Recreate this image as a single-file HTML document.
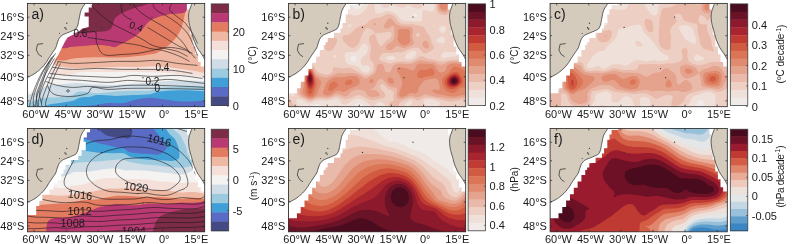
<!DOCTYPE html><html><head><meta charset="utf-8"><style>html,body{margin:0;padding:0;background:#fff;}svg{display:block;} text{font-family:"Liberation Sans",Arial,sans-serif;fill:#1a1a1a;}</style></head><body>
<svg width="793" height="244" viewBox="0 0 793 244">
<defs><clipPath id="ax"><rect x="0" y="0" width="177.2" height="103.3"/></clipPath></defs>
<g transform="translate(27.5,3.4)"><g clip-path="url(#ax)">
<rect x="-2" y="-2" width="181.2" height="107.3" fill="#419fd8"/><path d="M30,106 C33.8,105.5 45.8,103.9 52.5,103.1 C59.2,102.3 65.4,102 70.1,101.4 C74.8,100.8 76.3,99.9 80.7,99.6 C85.1,99.3 91.9,100.2 96.6,99.6 C101.3,99 104.6,97 108.9,96.1 C113.2,95.2 117.8,94.3 122.5,94.3 C127.2,94.3 131.8,95.3 137.2,96 C142.6,96.7 148.2,98 155.2,98.2 C162.2,98.4 175,97.3 179,97.1 L179,105.3 L30,105.3 Z" fill="#5a6bc5"/><path d="M-2,106 C0,106 6.3,106.8 10,106 C13.7,105.2 16.3,102.6 20,101.5 C23.7,100.4 27.9,100.2 32,99.5 C36.1,98.8 41.2,98.4 44.6,97.5 C48,96.6 49.4,95 52.5,94.3 C55.6,93.6 60.2,93.8 63.1,93.4 C66,93 66,91.8 70.1,91.7 C74.2,91.6 81.9,92.6 87.8,92.6 C93.7,92.6 99.6,92 105.4,91.7 C111.2,91.4 118,91.4 122.5,90.8 C127,90.2 127.1,88.8 132.6,88.1 C138,87.4 147.5,86.9 155.2,86.9 C162.9,86.9 175,87.9 179,88.1 L179,-2 L-2,-2 Z" fill="#9ccbe0"/><path d="M-2,100 C-0.3,99.5 5.2,97.9 8,97 C10.8,96.1 12.2,95 15,94.5 C17.8,94 21.9,94.2 25,94 C28.1,93.8 30.2,93.8 33.4,93.5 C36.6,93.2 40.8,92.9 44,92 C47.2,91.1 48.1,88.5 52.5,88.2 C56.9,87.9 64.2,89.9 70.1,89.9 C76,89.9 81.9,88.6 87.8,88.2 C93.7,87.8 99.6,87.5 105.4,87.3 C111.2,87.1 118,87.5 122.5,87 C127,86.5 127.1,85.2 132.6,84.5 C138,83.8 147.5,83.2 155.2,83 C162.9,82.8 175,83.5 179,83.6 L179,-2 L-2,-2 Z" fill="#d0dde6"/><path d="M-2,92 C0,91.3 6.7,89.5 10,88 C13.3,86.5 15.5,84.1 18,83 C20.5,81.9 22.4,81.9 25,81.5 C27.6,81.1 29.4,81.1 33.4,80.8 C37.4,80.5 43.1,79.5 49.2,79.5 C55.3,79.5 63.7,80.8 70.1,81.1 C76.5,81.4 81.9,81.7 87.8,81.5 C93.7,81.3 99.6,80.6 105.4,80.2 C111.2,79.8 116.1,79.5 122.5,79 C128.9,78.5 134.5,77.7 143.9,77.5 C153.3,77.3 173.2,77.9 179,78 L179,-2 L-2,-2 Z" fill="#f5f3f1"/><path d="M-2,60 C0.8,61.3 11,66.1 15,68 C19,69.9 17.2,71 22.1,71.5 C27,72 39.5,71.5 44.6,71 C49.7,70.5 45.3,69.2 52.5,68.8 C59.7,68.4 78.2,68.5 87.8,68.5 C97.4,68.5 102.5,68.4 110,68.5 C117.5,68.6 125.1,68.6 132.6,69 C140.1,69.4 147.5,70.2 155.2,71 C162.9,71.8 175,73.1 179,73.5 L179,-2 L-2,-2 Z" fill="#f4dfd9"/><path d="M-2,50 C1.7,51 14.9,54 20,56 C25.1,58 24.7,60.7 28.8,62.1 C32.9,63.5 39,64.1 44.6,64.5 C50.2,64.9 55.5,64.7 62.7,64.5 C69.9,64.3 79.9,63.7 87.8,63.5 C95.7,63.3 102.5,63.6 110,63.5 C117.5,63.4 125.8,62.8 132.6,63 C139.4,63.2 145.4,64.3 150.7,65 C156,65.7 159.5,66.2 164.2,67 C168.9,67.8 176.5,69.5 179,70 L179,-2 L-2,-2 Z" fill="#efb8a2"/><path d="M-2,45 C3.5,46.9 23.3,54.8 31.1,56.5 C38.9,58.2 40.1,55.7 44.6,55.3 C49.1,54.9 53.3,54.5 58.2,54.2 C63.1,54 69.1,53.8 74,53.8 C78.9,53.8 82.2,54.3 87.5,54.2 C92.8,54.1 99.6,53.7 105.6,53.1 C111.6,52.5 119.5,51.5 123.6,50.8 C127.7,50.1 127.6,50.2 130.1,49 C132.6,47.8 136,45.7 138.7,43.7 C141.3,41.8 143.9,39.6 146,37.3 C148.1,35 150,32.6 151.5,29.9 C153,27.2 154,24.5 155,21.3 C156,18.1 156.9,13.4 157.5,10.7 C158.1,8 158.1,7.1 158.5,5 C158.9,2.9 159.8,-0.8 160,-2 L160,-2 L-2,-2 Z" fill="#e37b60"/><path d="M-2,42 C4.2,42.5 27.8,44.5 35.2,44.8 C42.6,45.1 39.2,44.1 42.6,43.7 C46,43.3 50.8,43 55.4,42.6 C60,42.2 66.1,41.6 70.4,41.6 C74.7,41.6 78.2,42.2 81,42.6 C83.8,43 85.7,43.9 87.5,43.7 C89.3,43.5 89.7,42.7 91.8,41.6 C93.9,40.5 97.5,38.9 100.3,37.3 C103.1,35.7 106.3,34 108.8,32 C111.3,30.1 113.1,27.9 115.2,25.6 C117.3,23.3 119.1,20.1 121.6,18.1 C124.1,16.2 126.5,15.1 130.1,13.9 C133.7,12.7 138.4,11.6 143,10.7 C147.6,9.8 155.1,10.6 157.9,8.5 C160.7,6.4 159.7,-0.2 160,-2 L160,-2 L-2,-2 Z" fill="#b93a72"/><path d="M-2,29 C8.9,29 50.9,29.1 63.2,29 C75.5,28.9 69.2,28.6 71.8,28.3 C74.4,28.1 77.1,28 79,27.5 C80.9,27 82.2,26.5 83.3,25.4 C84.4,24.3 84.8,22.9 85.5,21.1 C86.2,19.3 86,16.5 87.6,14.6 C89.1,12.7 91.9,11.2 94.8,9.6 C97.7,8 101,6.6 104.8,5.3 C108.6,4 114.1,2.9 117.5,1.7 C120.9,0.5 123.8,-1.4 125,-2 L125,-2 L-2,-2 Z" fill="#7d2c48"/><path d="M-2,-2 L64.5,-2 L64.5,4 L61.2,4 L61.2,9 L57.1,9 L57.1,13.1 L61.2,13.1 L61.2,23.7 L55,25 L50,29 L45,31.5 L40,34 L37,39 L35,43 L33,47 L31,51 L29,54 L27,57 L25.5,62 L24,67 L22,72 L19,76 L15,80 L10,84 L5,87 L-2,90 Z" fill="#ffffff"/><path d="M159.4,-2 L159.4,6 L161.2,6 L161.2,23.2 L162.6,23.2 L162.6,31.1 L165.2,31.1 L165.2,43 L167.8,43 L167.8,50.8 L170.4,50.8 L170.4,58.7 L173.1,58.7 L173.1,63 L179,63 L179,-2 Z" fill="#ffffff"/><path d="M-2,-2 L57.8,-2 L57.8,0 L55,4.1 L53.2,7.8 L52.2,12.4 L51.3,17 L50.4,21.6 L48.6,25.3 L46.2,26.8 L42,28.6 L38.8,29.9 L35.5,31.3 L33.6,32.6 L31.4,35.4 L29.8,39.5 L28.2,44.5 L24.9,49.4 L21.6,54.3 L19.1,58.4 L16,62.5 L12,66.5 L7.5,70 L3,72.5 L-0.5,73.8 L-2,74 Z" fill="#d4cbbd"/><path d="M164.5,-2 L164.5,0 L161.8,7.3 L161,12.6 L161.8,20.6 L164,28.5 L166.3,36.5 L169.8,44.4 L173.5,49.8 L175.9,53.7 L177.5,56.5 L179,57 L179,-2 Z" fill="#d4cbbd"/><path d="M57.8,0 C57.5,0.4 55.5,3.3 55,4.1 C54.5,4.9 53.5,7 53.2,7.8 C52.9,8.6 52.4,11.5 52.2,12.4 C52,13.3 51.5,16.1 51.3,17 C51.1,17.9 50.7,20.8 50.4,21.6 C50.1,22.4 49,24.8 48.6,25.3 C48.2,25.8 46.9,26.5 46.2,26.8 C45.5,27.1 42.7,28.3 42,28.6 C41.3,28.9 39.4,29.6 38.8,29.9 C38.1,30.2 36,31 35.5,31.3 C35,31.6 34,32.2 33.6,32.6 C33.2,33 31.8,34.7 31.4,35.4 C31,36.1 30.1,38.6 29.8,39.5 C29.5,40.4 28.7,43.5 28.2,44.5 C27.7,45.5 25.6,48.4 24.9,49.4 C24.2,50.4 22.2,53.4 21.6,54.3 C21,55.2 19.7,57.6 19.1,58.4 C18.5,59.2 16.7,61.7 16,62.5 C15.3,63.3 12.8,65.8 12,66.5 C11.2,67.2 8.4,69.4 7.5,70 C6.6,70.6 3.8,72.1 3,72.5 C2.2,72.9 -0.1,73.7 -0.5,73.8" fill="none" stroke="#222" stroke-width="0.7"/><path d="M164.5,0 C164.2,0.7 162.2,6 161.8,7.3 C161.5,8.6 161,11.3 161,12.6 C161,13.9 161.5,19 161.8,20.6 C162.1,22.2 163.6,26.9 164,28.5 C164.4,30.1 165.7,34.9 166.3,36.5 C166.9,38.1 169.1,43.1 169.8,44.4 C170.5,45.7 172.9,48.9 173.5,49.8 C174.1,50.7 175.5,53 175.9,53.7 C176.3,54.4 177.3,56.2 177.5,56.5" fill="none" stroke="#222" stroke-width="0.7"/><path d="M15.6,40.2 L10,40.9 L8.8,46.5 L11.1,51 L14.5,53.3" fill="none" stroke="#222" stroke-width="0.7"/><circle cx="39.3" cy="19.8" r="0.6" fill="#222"/><circle cx="37.5" cy="24.4" r="0.7" fill="#222"/><circle cx="38.6" cy="25.6" r="0.7" fill="#222"/><circle cx="32" cy="29.9" r="0.5" fill="#222"/><path d="M46,30 C47.5,29.8 52.3,29.2 55,29 C57.7,28.8 59.8,28.5 62,28.5 C64.2,28.5 67.1,27.3 68.2,28.8 C69.3,30.3 68.3,35 68.7,37.3 C69.1,39.6 69.6,40.6 70.4,42.6 C71.2,44.6 72,47.4 73.6,49 C75.2,50.6 76.4,51.7 80,52 C83.6,52.3 90,51.3 95,51 C100,50.7 105,50.7 110,50 C115,49.3 120,48 125,47 C130,46 135,44.2 140,44 C145,43.8 150.8,45 155,46 C159.2,47 163.3,49.3 165,50" fill="none" stroke="#1a1a1a" stroke-width="0.6"/><path d="M63.2,1.7 C65.1,3.5 70.9,9.3 74.7,12.5 C78.5,15.7 81.9,18.5 86.2,21.1 C90.5,23.7 95.7,25.8 100.5,28.3 C105.3,30.8 110.9,33.7 115,36 C119.1,38.3 121.3,40.5 125,42 C128.7,43.5 132.8,44 137,45 C141.2,46 146.2,46.7 150,48 C153.8,49.3 158.3,52.2 160,53" fill="none" stroke="#1a1a1a" stroke-width="0.6"/><path d="M93.4,-1 C93.6,0.8 93.6,7 94.8,9.6 C96,12.2 99,13.5 100.5,14.6 C102,15.7 103.4,15.8 104,16" fill="none" stroke="#1a1a1a" stroke-width="0.6"/><path d="M120,24 C121.7,25 126.7,28 130,30 C133.3,32 136.7,34 140,36 C143.3,38 146.7,40.2 150,42 C153.3,43.8 157,44.8 160,47 C163,49.2 166.7,53.7 168,55" fill="none" stroke="#1a1a1a" stroke-width="0.6"/><path d="M145,-1 C144.5,0.2 141.5,3.8 142,6 C142.5,8.2 145.3,9.7 148,12 C150.7,14.3 155.2,17 158,20 C160.8,23 163,26.7 165,30 C167,33.3 169.2,38.3 170,40" fill="none" stroke="#1a1a1a" stroke-width="0.6"/><path d="M30,58 C32.5,58.3 38.3,59.8 45,60 C51.7,60.2 62.5,59.3 70,59 C77.5,58.7 83.3,58.2 90,58 C96.7,57.8 103.3,58.2 110,58 C116.7,57.8 123.3,56.7 130,57 C136.7,57.3 143.3,59.2 150,60 C156.7,60.8 166.7,61.7 170,62" fill="none" stroke="#1a1a1a" stroke-width="0.6"/><path d="M25,64 C28.3,64.3 37.5,65.8 45,66 C52.5,66.2 61.7,65 70,65 C78.3,65 86.7,65.8 95,66 C103.3,66.2 111.7,65.8 120,66 C128.3,66.2 137.5,66.3 145,67 C152.5,67.7 161.7,69.5 165,70" fill="none" stroke="#1a1a1a" stroke-width="0.6"/><path d="M22,70 C25,70.3 33.7,71.5 40,72 C46.3,72.5 51.7,72.7 60,73 C68.3,73.3 82.5,74.2 90,74 C97.5,73.8 99.2,72.2 105,72 C110.8,71.8 117.5,73 125,73 C132.5,73 141.7,71.7 150,72 C158.3,72.3 170.8,74.5 175,75" fill="none" stroke="#1a1a1a" stroke-width="0.6"/><path d="M20,74 C22.5,74.3 29.2,75.5 35,76 C40.8,76.5 47.5,76.5 55,77 C62.5,77.5 72.5,79 80,79 C87.5,79 93.3,77.2 100,77 C106.7,76.8 113.3,78.2 120,78 C126.7,77.8 133.3,76 140,76 C146.7,76 153.8,77.3 160,78 C166.2,78.7 174.2,79.7 177,80" fill="none" stroke="#1a1a1a" stroke-width="0.6"/><path d="M18,78 C20,78.7 25.5,81 30,82 C34.5,83 40,83.8 45,84 C50,84.2 54.2,83 60,83 C65.8,83 73.3,84.2 80,84 C86.7,83.8 91.7,82.3 100,82 C108.3,81.7 120,81.8 130,82 C140,82.2 152.2,82.7 160,83 C167.8,83.3 174.2,83.8 177,84" fill="none" stroke="#1a1a1a" stroke-width="0.6"/><path d="M20,82 C20.5,83 21.3,86.3 23,88 C24.7,89.7 26.3,91.2 30,92 C33.7,92.8 40,93.3 45,93 C50,92.7 56.7,91.5 60,90 C63.3,88.5 61.7,84.7 65,84 C68.3,83.3 74.2,85.8 80,86 C85.8,86.2 91.7,85.2 100,85 C108.3,84.8 117.2,84.8 130,85 C142.8,85.2 169.2,85.8 177,86" fill="none" stroke="#1a1a1a" stroke-width="0.6"/><path d="M28,50 C27,51.7 23.7,56.7 22,60 C20.3,63.3 19.2,66.7 18,70 C16.8,73.3 16,76.7 15,80 C14,83.3 12.2,86.7 12,90 C11.8,93.3 13.7,98.3 14,100" fill="none" stroke="#1a1a1a" stroke-width="0.6"/><path d="M26,52 C25,53.7 21.7,58.7 20,62 C18.3,65.3 17.3,68.7 16,72 C14.7,75.3 13.2,78.7 12,82 C10.8,85.3 9.3,88.3 9,92 C8.7,95.7 9.8,102 10,104" fill="none" stroke="#1a1a1a" stroke-width="0.6"/><path d="M24,54 C23,55.7 19.8,60.7 18,64 C16.2,67.3 14.5,70.7 13,74 C11.5,77.3 10.2,80.7 9,84 C7.8,87.3 6.5,90.7 6,94 C5.5,97.3 6,102.3 6,104" fill="none" stroke="#1a1a1a" stroke-width="0.6"/><path d="M22,58 C20.8,59.7 17,64.7 15,68 C13,71.3 11.5,74.7 10,78 C8.5,81.3 7.2,84.7 6,88 C4.8,91.3 3.7,95.3 3,98 C2.3,100.7 2.2,103 2,104" fill="none" stroke="#1a1a1a" stroke-width="0.6"/><path d="M104,-1 C105.3,0.5 109,5.3 112,8 C115,10.7 118.3,12.7 122,15 C125.7,17.3 130,19.5 134,22 C138,24.5 142.3,27 146,30 C149.7,33 153.3,36.7 156,40 C158.7,43.3 161,48.3 162,50" fill="none" stroke="#1a1a1a" stroke-width="0.6"/><path d="M125,-1 C125.5,0.2 125.8,3.8 128,6 C130.2,8.2 134.3,9.7 138,12 C141.7,14.3 146.3,17 150,20 C153.7,23 157.3,26.3 160,30 C162.7,33.7 164.3,38.3 166,42 C167.7,45.7 169.3,50.3 170,52" fill="none" stroke="#1a1a1a" stroke-width="0.6"/><path d="M60,34 C63.3,34.5 73.3,36 80,37 C86.7,38 94.7,39.2 100,40 C105.3,40.8 108.3,41.2 112,42 C115.7,42.8 118.2,44.2 122,45 C125.8,45.8 130.3,45.8 135,47 C139.7,48.2 145.5,50.2 150,52 C154.5,53.8 160,57 162,58" fill="none" stroke="#1a1a1a" stroke-width="0.6"/><path d="M27,55 C26,56.7 22.8,61.7 21,65 C19.2,68.3 17.5,71.7 16,75 C14.5,78.3 13.2,81.7 12,85 C10.8,88.3 9.7,91.8 9,95 C8.3,98.2 8.2,102.5 8,104" fill="none" stroke="#1a1a1a" stroke-width="0.6"/><path d="M29,56 C28,57.8 24.8,63.5 23,67 C21.2,70.5 19.5,73.7 18,77 C16.5,80.3 15.2,83.7 14,87 C12.8,90.3 11.5,94.2 11,97 C10.5,99.8 11,102.8 11,104" fill="none" stroke="#1a1a1a" stroke-width="0.6"/><path d="M31,58 C30.2,59.7 27.7,64.5 26,68 C24.3,71.5 22.5,75.5 21,79 C19.5,82.5 18.2,85.7 17,89 C15.8,92.3 14.3,96.5 14,99 C13.7,101.5 14.8,103.2 15,104" fill="none" stroke="#1a1a1a" stroke-width="0.6"/><path d="M33,60 C32.2,61.7 29.5,66.7 28,70 C26.5,73.3 25.2,76.7 24,80 C22.8,83.3 22,86.7 21,90 C20,93.3 18.3,97.7 18,100 C17.7,102.3 18.8,103.3 19,104" fill="none" stroke="#1a1a1a" stroke-width="0.6"/><ellipse cx="40.5" cy="87.5" rx="1.4" ry="1.1" fill="none" stroke="#1a1a1a" stroke-width="0.6"/><text x="46" y="33.5" style="font-size:10px">0.6</text><text x="101" y="24" transform="rotate(20 101 24)" style="font-size:10px">0.4</text><text x="128" y="67.5" style="font-size:10px">0.4</text><text x="118" y="81.5" style="font-size:10px">0.2</text><text x="127" y="88.5" style="font-size:10px">0</text>
<circle cx="74" cy="24" r="0.65" fill="#333"/><circle cx="124.5" cy="13.7" r="0.65" fill="#333"/><circle cx="110.4" cy="65.2" r="0.65" fill="#333"/><circle cx="115.5" cy="74.3" r="0.65" fill="#333"/>
</g>
<rect x="0" y="0" width="177.2" height="103.3" fill="none" stroke="#303030" stroke-width="0.85"/>
<path d="M0,13.8 h2 M177.2,13.8 h-2" stroke="#262626" stroke-width="0.7"/>
<path d="M0,32.3 h2 M177.2,32.3 h-2" stroke="#262626" stroke-width="0.7"/>
<path d="M0,51.9 h2 M177.2,51.9 h-2" stroke="#262626" stroke-width="0.7"/>
<path d="M0,73.4 h2 M177.2,73.4 h-2" stroke="#262626" stroke-width="0.7"/>
<path d="M0,97.5 h2 M177.2,97.5 h-2" stroke="#262626" stroke-width="0.7"/>
<path d="M6.6,0 v2 M6.6,103.3 v-2" stroke="#262626" stroke-width="0.7"/>
<path d="M38.7,0 v2 M38.7,103.3 v-2" stroke="#262626" stroke-width="0.7"/>
<path d="M70.8,0 v2 M70.8,103.3 v-2" stroke="#262626" stroke-width="0.7"/>
<path d="M102.9,0 v2 M102.9,103.3 v-2" stroke="#262626" stroke-width="0.7"/>
<path d="M135,0 v2 M135,103.3 v-2" stroke="#262626" stroke-width="0.7"/>
<path d="M167.1,0 v2 M167.1,103.3 v-2" stroke="#262626" stroke-width="0.7"/>
<text x="4" y="15.3" style="font-size:14px">a)</text>
<text x="-3.2" y="13.8" text-anchor="end" style="font-size:11px" dominant-baseline="central">16°S</text>
<text x="-3.2" y="32.3" text-anchor="end" style="font-size:11px" dominant-baseline="central">24°S</text>
<text x="-3.2" y="51.9" text-anchor="end" style="font-size:11px" dominant-baseline="central">32°S</text>
<text x="-3.2" y="73.4" text-anchor="end" style="font-size:11px" dominant-baseline="central">40°S</text>
<text x="-3.2" y="97.5" text-anchor="end" style="font-size:11px" dominant-baseline="central">48°S</text>
<text x="8.3" y="114.6" text-anchor="middle" style="font-size:11px">60°W</text>
<text x="40.4" y="114.6" text-anchor="middle" style="font-size:11px">45°W</text>
<text x="72.5" y="114.6" text-anchor="middle" style="font-size:11px">30°W</text>
<text x="104.6" y="114.6" text-anchor="middle" style="font-size:11px">15°W</text>
<text x="136.7" y="114.6" text-anchor="middle" style="font-size:11px">0°</text>
<text x="168.8" y="114.6" text-anchor="middle" style="font-size:11px">15°E</text>
</g>
<g transform="translate(211.2,3.9)">
<rect x="0" y="0" width="17.5" height="9.6" fill="#7d2c48"/><rect x="0" y="9.2" width="17.5" height="9.6" fill="#b93a72"/><rect x="0" y="18.5" width="17.5" height="9.6" fill="#e37b60"/><rect x="0" y="27.7" width="17.5" height="9.6" fill="#efb8a2"/><rect x="0" y="36.9" width="17.5" height="9.6" fill="#f4dfd9"/><rect x="0" y="46.2" width="17.5" height="9.6" fill="#f5f3f1"/><rect x="0" y="55.4" width="17.5" height="9.6" fill="#d0dde6"/><rect x="0" y="64.7" width="17.5" height="9.6" fill="#9ccbe0"/><rect x="0" y="73.9" width="17.5" height="9.6" fill="#419fd8"/><rect x="0" y="83.1" width="17.5" height="9.6" fill="#5a6bc5"/><rect x="0" y="92.4" width="17.5" height="9.6" fill="#444a84"/>
<rect x="0" y="0" width="17.5" height="101.6" fill="none" stroke="#3a3a3a" stroke-width="0.75"/>
</g>
<text x="232.7" y="31.9" style="font-size:11px" dominant-baseline="central">20</text>
<path d="M228.7,31.9 h-1.8" stroke="#333" stroke-width="0.6"/>
<text x="232.7" y="69.3" style="font-size:11px" dominant-baseline="central">10</text>
<path d="M228.7,69.3 h-1.8" stroke="#333" stroke-width="0.6"/>
<text x="232.7" y="106.3" style="font-size:11px" dominant-baseline="central">0</text>
<path d="M228.7,106.3 h-1.8" stroke="#333" stroke-width="0.6"/>
<text transform="translate(252.8,55.2) rotate(-90)" text-anchor="middle" style="font-size:10px" dominant-baseline="central">(°C)</text>
<g transform="translate(288.5,3.4)"><g clip-path="url(#ax)">
<rect x="-3" y="-3" width="183.2" height="109.3" fill="#f0eae8"/><path d="M-2.5,-3 63.4,-3 63.8,1 64.6,3.5 65.5,4.8 66.5,5.6 67.5,6.1 68.5,6.2 69.5,6 71,5.3 72.5,4.2 74.3,2.5 76,0 76.6,-1.5 76.8,-3 180.5,-3 180.5,106.5 93.5,106.5 93.2,105.5 92.5,104.9 92,104.9 91.5,105.4 91.2,106.5 78.4,106.5 77.9,105 76.5,103.5 72,99.6 71,99 70,98.8 69,98.9 68,99.3 67.2,100 66.5,100.9 65.9,103 65.8,106.5 34.7,106.5 34.1,104.5 32.2,102 30.5,100.8 29.5,100.5 28.5,100.4 26,101 21.4,103.5 19.4,105 18.5,106.5 -3,106.5 -3,-3 -2.5,-3ZM31.2,8.5 30.8,9 30.3,10 30.2,11 30.3,12.5 30.6,14 31.2,15.5 32,16.3 32.5,16.4 33.5,15.8 34.4,14.5 34.9,13 35,11.5 34.5,10 33.5,8.7 32.5,8.2 32,8.2 31.2,8.5ZM124.2,10 123.8,10.5 123.9,11.5 125,12.6 126,13.1 127,13.2 128,13 128.6,12.5 128.8,12 128.6,11 127.5,10 125.5,9.6 124.2,10ZM63.3,52.5 62.3,53 61.6,54 61.5,55 61.9,56.5 62.6,57.5 63.5,58.1 65,58.4 66,58.1 67,57.3 67.7,56 67.9,54.5 67.6,53.5 67,52.9 66,52.5 64.5,52.3 63.3,52.5Z" fill="#efe0da"/><path d="M-2.5,-3 17.5,-3 18,-1.7 19,-0.5 23.7,2.5 24.4,3.5 24.7,5 24.5,6.5 24,8 22.5,10.5 20.5,12.3 16.7,14.5 16,15.5 15.9,16 16,16.5 16.4,17 17,17.3 18,17.6 21.5,17.8 22.5,18.1 23.1,18.5 23.7,19.5 23.9,21 23.5,22.5 22.9,23.5 21.5,24.6 20.2,25 18.5,25.3 16,25.2 12.5,24.2 11.5,24.1 10.5,24.3 9.5,24.9 8,26.1 1,33.5 -1,34.6 -3,34.9 -3,-3 -2.5,-3ZM31,-3 38.4,-3 38.2,-2 37.4,-1 36.5,-0.5 35,-0.2 33.5,-0.5 32,-1.3 31,-2.3 30.8,-3 31,-3ZM45,-3 60.6,-3 60.5,-0.8 60.1,1.5 58.1,6.5 57.9,8.5 58.2,9.5 59,10.2 63,11.5 65.5,12 68,12 70,11.7 72,10.6 75.8,7.5 77.5,5.5 80.8,0 81.7,-2 81.9,-3 84.2,-3 86.1,2.5 86.5,7.5 86.7,8.5 87.4,9.5 88,9.8 90,10.2 92,10 93.5,9.4 97.5,7.4 99,7.4 105,9.2 106.8,10 108,11 110.5,14.2 112,15.8 113.5,17 115,17.7 117.5,18.2 124,17.8 130.5,18.4 132.5,18 133.1,17.5 133.7,16.5 133.8,15.5 133.7,9.5 134,7.8 134.5,6.9 135,6.6 136,6.6 140.5,7.9 142.5,8.1 144,7.8 145.1,7 145.8,5.5 146.1,3.5 146,-3 165.1,-3 164.2,3 163.7,9.5 163.7,11 164.1,12.5 165,13.6 166.5,14.3 173.5,16.4 174.5,16.5 175.5,16.2 176,15.8 176.4,15 176.4,13.5 175.6,11.5 172.7,7.5 171.8,5.5 171.3,2.5 171.3,-3 180.5,-3 180.5,25.6 180,25.8 179.3,26.5 179,27.1 178.9,28 179.1,28.5 179.5,28.9 180.5,29.2 180.5,106.5 144.6,106.5 144.8,106 145.6,105 149.5,102.3 150.9,101 151.4,100 151.2,99 150,98 147.1,97 143,96.2 139.5,95.9 138,96.1 136.5,96.6 135.4,97.5 135.1,98.5 135.6,100 139.3,104.5 139.9,105.5 140.2,106.5 97.5,106.5 97,103.5 96,101 94.9,99.5 93.5,98.6 92.5,98.3 91,98.3 90,98.5 88.9,99 87.7,100 85.5,103.3 84.5,103.9 84,103.8 83,103.1 79.3,99.5 76.1,97 73.1,95.5 70.5,95 68,95.4 65.5,96.2 62.9,97.5 59,100.3 57.5,100.8 56,101 54.5,100.8 53.7,100.5 53.2,100 52.3,98 51.5,97 50,95.9 48,95.2 46,95.5 42.5,96.7 40,97.2 37.5,97.3 31.5,96.8 29,97 27,97.5 22.5,99.5 20.5,99.9 19.5,99.7 18.5,99.3 15.6,97 14,96.3 11.5,95.7 9,95.7 8.1,96 7.8,96.5 7.7,98 8.4,100.5 10.4,104.5 10.9,106.5 -3,106.5 -3,63.3 -2.5,62.9 -1.5,61.2 -0.8,59.5 -0.5,58 -0.7,57 -1,56.5 -1.7,56 -3,55.7 -3,41.4 3,41.6 3.5,41.4 5,38.8 6.8,37.5 9.4,36.5 11.5,35.9 13,35.9 15.5,36.4 17.5,36.1 19.6,35 24,31.4 25.5,30.6 26.5,30.5 27.5,30.6 31.5,32.4 32,32.4 33,31.7 35.2,29 35.8,28 36.1,26.5 35.9,22.5 36.4,19.5 37.4,17 40,12 41.9,5 44.5,-1.5 44.8,-3 45,-3ZM61,21 60,21.6 59.5,22.5 59.6,23.5 60,24 60.5,24.1 61,24.1 62,23.5 62.9,22.5 63.2,21.5 63,21 62.5,20.8 61,21ZM154.3,22.5 153,22.9 151.5,23.8 150.8,24.5 150.4,25.5 150.6,26.5 151.5,28 153,29.6 154,30.2 155,29.9 156.5,28.4 157.5,26.5 157.7,25 157.5,24 156.7,23 155.5,22.5 154.3,22.5ZM152.2,33.5 150,34.4 148.5,35.5 147.9,36.5 147.9,37.5 148.1,38 148.5,38.5 149.3,39 150.9,39.5 153.5,39.8 155,39.5 156,38.6 156.4,37.5 156.4,36.5 156,35.1 155.5,34.3 154.5,33.3 153.5,33.1 152.2,33.5ZM75,40 74,40.7 73.3,41.5 70.4,46 69,47.4 67.5,48.1 65.5,48.6 59.5,48.7 58,49 57,49.6 56.4,50.5 56.1,51.5 56.1,52.5 57.1,58 57.5,59 58,59.6 59.5,60.5 61.5,61.3 68,62.8 69.5,63.4 70.3,64 72.1,66.5 73.2,67.5 76,69 78,69.3 79,69.1 80,68.7 81.2,67.5 81.8,66 81.8,65 81.4,64 80.5,62.9 79.5,62.4 78.5,62.2 75.5,62.2 74,61.8 73,61 72.5,60.1 72.3,59 72.3,57 73,55 74.5,53 77,51 77.9,50 78.6,48.5 79.3,46 79.3,43.5 78.4,41.5 77,40.1 76,39.8 75,40ZM4.9,43.5 4.6,44 4.6,45 4.9,46.5 5.3,47.5 6,48.2 6.5,48.4 7.5,48.1 8.1,47.5 8.5,46.6 8.5,45.8 8.2,45 7.5,44 6.5,43.5 5.5,43.2 4.9,43.5ZM123.4,47.5 120.5,48.5 119.1,49.5 118.2,50.5 117.3,52 116.7,53.5 116.9,54.5 117.3,55 118.3,55.5 120,55.8 122.5,55.5 124.5,54.5 126.6,52.5 127.9,50.5 128,49.5 127.5,48.5 127,48 125.8,47.5 123.4,47.5ZM155.7,48.5 153.8,50 153,51 152.6,52 152.6,53.5 153,54.2 154,54.8 155.5,54.9 161,53.7 167,53.2 168.6,52.5 169.2,52 169.6,51 169.5,50 169.3,49.5 168.5,48.9 167.5,48.6 162.5,48.8 157.5,48.1 155.7,48.5ZM22.7,49 21.5,50 21.1,51 21.2,52 21.7,53 22.4,54 24,55.3 25.5,55.7 26.5,55.5 28.6,54 29.9,52.5 30.2,51.5 29.8,50.5 29,49.7 28,49.1 25.5,48.5 24,48.6 22.7,49ZM45.3,52 44.8,52.5 44.6,53 45,53.9 46,54.4 46.5,54.4 47.3,54 47.8,53 47.8,52.5 47.5,52 46.5,51.7 45.3,52ZM99,53 98.1,53.5 97.7,54 97.5,54.5 97.7,55 98.7,56 100.5,56.7 102.5,56.9 104.5,56.6 106,56 107,55 107.1,54.5 106.5,53.7 105.5,53.1 104.5,52.8 101.5,52.5 99,53ZM2.8,87 1.5,87.5 0.8,88 0.3,89 0.5,90 1.1,91 2.5,92.2 4,92.9 5,93 5.5,92.7 5.9,91.5 6,90 5.6,88.5 5,87.5 4.5,87.2 3.5,86.9 2.8,87ZM119.9,98 118.2,99 116.9,100.5 116.6,102 116.7,102.5 117.1,103 117.5,103.1 118.5,103 121,102.1 122.5,101.3 123.5,100.1 123.6,99 123.4,98.5 122.8,98 121.5,97.7 119.9,98ZM91,-3 135.9,-3 135.3,0 133.5,3.8 133,4.4 132,4.9 129.5,5.1 127.5,5 126,4.6 124.5,4 121,2.1 120,1.9 118.5,2.1 115.5,3.9 114.5,4.2 113.5,4.3 111,3.7 105,1.3 103.5,1 102,1.6 98.5,4.4 97.5,4.8 97,4.8 96,4.4 94.5,3.5 92.5,1.5 91.4,-0.5 91,-3ZM46,101.9 47.5,101.7 49,101.8 50,102 50.7,102.5 51.1,103.5 51.1,106.5 42.6,106.5 42.8,105 43.5,103.5 44.5,102.5 46,101.9Z" fill="#edcfc4"/><path d="M3.5,-3 13.3,-3 13.5,-2 14.3,-0.5 18.2,4 18.7,5 18.8,6 18.4,7 17.5,7.9 16.3,8.5 15,8.9 12,9.2 6,9.2 5.7,9.5 5.7,13.5 5.4,16.5 2.8,24.5 1.7,26.5 0.2,28 -1.5,29.1 -3,29.5 -3,19.1 -2,18.8 -1.6,18.5 -1.4,18 -1.7,17 -2.3,16.5 -3,16.3 -3,8.2 4,8.9 5,8.8 5.3,8.5 5,6 3.8,0.5 3.5,-3ZM96.5,-3 97.2,-3 97,-2.6 96.5,-2.7 96.3,-3 96.5,-3ZM109,-3 114.8,-3 114.5,-2.2 113.9,-1.5 113,-1 112,-0.8 111,-1 109.8,-1.5 108.9,-2.5 108.7,-3 109,-3ZM123.5,-3 132.3,-3 132,-1.5 131,-0.2 129.5,0.9 128,1.2 126,0.8 124.5,-0.2 123.3,-2 123,-3 123.5,-3ZM148,-3 162.6,-3 161.8,6.5 161,8.7 159.5,10.6 158.5,11.2 157.5,11.6 156.5,11.8 155,11.7 152,10.8 150.5,9.8 149.6,9 148.7,7.5 148.2,5.5 147.8,-2.5 147.8,-3 148,-3ZM175.5,-3 180.5,-3 180.5,6.6 179,6.2 178,5.6 176.9,4.5 176,3.2 175.4,1.5 175.1,-0.5 175,-3 175.5,-3ZM49.5,1.4 51,1 52,1.4 52.5,2.1 52.9,3.5 53.3,11 53.8,17 53.6,19.5 52.9,22.5 52,24.1 51,24.7 50,24.7 46.5,24.2 43,24.1 41.5,23.8 40.2,23 39.5,22 39.3,20.5 39.5,19 40.5,17.1 43.2,14 44.1,12.5 44.5,11 45.3,7 46.4,4.5 48,2.4 49.5,1.4ZM98,10.9 99.5,10.7 101,10.8 103,11.3 104.6,12 106.4,13.5 110.3,18.5 111.5,19.5 113.5,20.5 115,20.8 117,21 123,20.9 125.5,21 133.5,22.9 135.1,23.5 136,24.5 137.5,28 140.3,31.5 141.3,33 142,34.9 143.1,39 143.7,40.5 145.2,43 145.5,44 145.5,44.5 145.3,45 144.3,46 141,48.3 138.5,49.6 136.5,50 135.5,49.9 134.5,49.3 132,46.3 130.5,45.1 129,44.4 127,44.2 125,44.3 122.5,45 118.2,46.5 114,48.6 112.5,49.1 109,48.6 104,49.5 95,49.6 94,50 93.3,50.5 91.5,52.8 90.9,54 90.6,55 90.6,55.5 91,56.2 92.2,57 98,59.3 99.5,59.8 101,60.1 103,59.8 108,58.4 110.5,58 112.5,58 119.5,58.4 122.5,58.1 125.3,57 130.5,53.6 132,53 133.5,52.8 135,53.2 137,54.5 139,55.4 141,55.8 146,56.3 151,58 152.5,58.2 154.5,58.2 159.5,57 162.5,56.6 174,56 180.5,56.7 180.5,96.9 176,96.4 174,96.4 165.5,97.9 161.5,98.2 159,97.8 152.5,96 145.5,94.7 139.5,93.8 137.5,93.8 135.5,94.3 133.9,95 131,96.8 129.5,97.2 128,96.8 124,95.2 121.5,95 118,96 113.2,98 111.5,99 110.7,100 110.5,101 110.2,106.5 100.6,106.5 100.3,102 100.5,100.5 101.5,99.2 104.5,97.7 105.2,97 105.3,96 104.8,93 105.3,89.5 105.1,88.5 104.9,88 104,87.3 100,85.9 99,85.1 95.5,81.5 94.5,80.9 93.5,80.7 92.5,81 92,81.5 91.6,82.5 91.6,84 92.5,85.8 95.1,88.5 96.1,90 96.8,92 96.5,93.3 95.5,94.3 94,94.8 85,96.6 83,96.6 81,96.2 78.5,95.2 73,92.4 71.5,91.9 70,91.7 67.5,92.2 61,95 58,95.9 56.5,95.9 55.5,95.7 50,93.3 48,92.9 46.5,93.2 43,94.6 40.5,95.2 38,95.4 32.5,95 30,95.1 27.5,95.6 23,97.3 21,97.5 19.5,97.2 15.5,95.1 12,93.8 11,93.2 10.2,92.5 9.5,91.5 9.2,90.5 8.7,85.5 9,83.5 10.3,80.5 10.8,78.5 11,76 10.7,74.5 10,73.8 8.5,73.5 6.5,73.7 3,74.7 2,74.7 1.5,74.4 1,73.5 0.6,71 0.8,68.5 1.3,66 2.1,63.5 3,61.4 4.5,59.2 6.5,57 8,55.9 9.5,55.2 11,54.9 12.5,55.2 13.5,56.1 15,58.4 16,59.1 17,59.3 20.5,59.3 22.5,60 24,61.2 25.2,62.5 26.2,64 28,67.6 28.9,68.5 29.9,69 36.5,71.2 38,71.3 39.5,71.1 41.3,70.5 42.5,69.8 43.8,68.5 44.3,67.5 44.6,64.5 45,64.1 46,63.9 49,64.1 54,65 59,64.4 60.5,64.4 62,64.7 64.1,65.5 68.4,68 75,71.3 77,72 78.5,71.9 80,71.4 81.5,70.6 82.9,69.5 84.3,68 85,66.5 85.4,64.5 85.4,62.5 85.2,60.5 84.6,59 82,56.3 81.5,55.5 81.2,54.5 81.4,51 82.5,45.5 82.6,44 82.4,42.5 81.1,39 80.6,37 80.5,35 81,33.5 82,32.2 83.5,31.2 85.5,30.6 86,30.5 86.5,30.9 88.3,36 90.5,41 91.3,42 92,42.5 93,42.6 94,41.8 96.5,38.5 97.7,37.5 100.8,35.5 102.2,34 102.9,32.5 103.2,31 103,29.8 102.5,28.8 101.5,28.3 100.5,28.3 95,29.2 87,30 86.5,29.9 84.8,27.5 82.9,26 80,24.7 79,24.6 78,24.9 76.5,26.2 74,30.1 73,32.4 71.6,37 69.9,40.5 68.7,42 67.5,43 66,43.9 64.5,44.3 63,44.2 61.5,43.7 60,42.7 58.1,41 55.8,38.5 54.4,36.5 53.8,35 53.8,34 54.2,33 55.5,32.2 59.5,31.5 61.5,30.6 62.8,29.5 66,25.9 69,23.8 72,22.4 77,21.1 78,20.3 80.5,17.5 82.5,16 85.5,15 91,14.2 92.5,13.8 96.6,11.5 98,10.9ZM128.8,29.5 127.9,30.5 127.6,32 128,33.1 128.5,33.5 129,33.6 130,33.2 130.5,32.8 131,32 131.2,31 131,30 130.5,29.5 129.5,29.3 128.8,29.5ZM169,23.8 169,24.4 169,23.8ZM167.5,26.3 168,26 168.4,26.5 168.5,29.5 168,31.2 167.5,31.6 167,31.6 166,31.3 165,30.7 164.4,30 164.2,29.5 164.3,29 165,28.1 167.5,26.3ZM43,33.5 45.5,33.6 46.9,34 47.7,34.5 48.2,35 48.7,36 48.7,37 48.6,38 48,39.5 46.5,42.5 45.5,44.2 44.5,45.4 43.1,46.5 41.5,47.3 40,47.6 39,47.4 38,46.9 37.2,46 36.7,45 36.5,44 36.7,42 37.7,38 38.5,36 39.5,34.8 41,33.9 43,33.5ZM23.5,37.9 24.5,37.6 25.5,37.5 26.5,37.9 27.5,38.8 28.4,40 29,41.5 29,42.5 28.5,43.3 27,44 24.5,44.2 22.5,43.9 21.7,43.5 21.1,43 20.7,42 21,40.5 22,39 23.5,37.9ZM179,45.4 180.5,45.2 180.5,52.2 179,52 177.9,51.5 177,50.6 176.6,49.5 176.6,48 177,47 177.9,46 179,45.4ZM-2.5,77 -0.5,77 0.5,77.3 1.5,78.7 1.9,80.5 1.7,81.5 0.8,82.5 -1,83.5 -3,84 -3,77 -2.5,77ZM-2.5,94.5 -1,95 0.5,95.8 2,97 3,98.1 4.5,101 6,105 6.3,106.5 -3,106.5 -3,94.4 -2.5,94.5ZM130,102.4 131,102.4 132.5,103.4 133.7,105 134.1,106.5 126.7,106.5 127,105.5 128,104 129,102.9 130,102.4ZM161.5,104.4 162.5,104.3 163.5,104.6 164.5,105.5 164.8,106.5 158.8,106.5 159.5,105.5 161.5,104.4Z" fill="#e9b9a9"/><path d="M149.5,-3 160.9,-3 160.4,5 160,6.5 159,7.9 157.5,8.8 156.5,9 155,9 152.5,8.3 151,7.2 150.2,6 149.7,4 149.3,-2 149.3,-3 149.5,-3ZM101,14.9 102,15.1 103,15.7 104.4,17 107,20.2 108.1,21 110,21.9 112,22.6 114,23 121.5,23.4 123,23.9 123.9,24.5 124.4,25.5 124.6,26.5 123.9,31.5 123.9,33 124.2,34.5 125.5,39 125.2,40 124.4,41 122.9,42 120.5,43.2 116.5,44.4 115,44.6 113.5,44.4 109.5,42.6 108,42.4 107,42.8 104.8,45.5 103.2,46.5 101.5,46.8 100,46.7 99,46.4 98,45.5 97.6,44 97.7,43 98.1,42 99.5,40.4 103.2,38.5 104.3,37.5 105.5,35.1 106.2,32 106.2,29.5 105.8,25 105.5,23.7 105,22.7 104.5,22.4 103.5,22.4 100.5,24.5 98.5,25.2 96.9,25 96.2,24.5 95.6,23.5 95.5,22.5 95.6,21.5 96.4,20 98.5,17.5 99.8,15.5 100.5,15 101,14.9ZM85.5,19.5 86.5,19.5 87.3,20 87.7,20.5 87.7,21 87.5,21.5 86.5,21.9 85,21.4 84.5,20.5 84.7,20 85.5,19.5ZM136,37.4 137,37.1 137.5,37.1 138.5,37.6 139.5,39 140.1,40.5 140.4,42 140.3,43.5 139.7,44.5 138.5,45.2 137.5,45.2 136.1,44.5 134.8,43 134.1,41.5 133.9,40.5 134.1,39.5 134.7,38.5 136,37.4ZM131,56.9 133,56.9 138,57.9 145,58.7 147,59.3 151,61.3 152,61.5 153.5,61.3 159,59.1 163,58.4 170,58.4 180.5,59.5 180.5,94.3 174,94.2 167,95.1 161,95.2 148.9,93.5 143.7,92.5 138,91 136.5,90.9 135,91.3 132,93.1 130,93.9 128,93.9 124,92.9 122,92.9 120.5,93.2 115,95.2 113,95.6 111.5,95.5 110.5,95.2 109.5,94.6 108.9,94 108.3,93 108.1,91 108.7,86.5 108.5,85.4 108,84.5 107,84 103.5,83.8 101.5,83.1 99.3,81.5 94,76.2 93,75.6 92,75.4 91,75.7 89.7,77 87,82.1 85.5,84.1 84.5,84.8 82.4,85.5 81.8,86 82.3,86.5 85.5,86.6 87,87 89,88.1 90.4,89.5 91.1,91 90.7,92 89.5,92.8 87.5,93.3 84,93.6 82.5,93.5 81,93 80,92.5 78.7,91.5 78,90.5 77.1,88.5 76,87.6 73,86.7 69,86.2 66,86.5 63.5,87.5 62.2,88.5 60,91.6 58.6,92.5 57.5,92.9 56.5,93 55,92.8 50,90.7 48,90.5 46.5,90.9 43,92.9 41,93.6 38,93.8 32.5,93.2 30.5,93.2 28.5,93.7 24,95.5 22,96 21,96 19.5,95.6 13.5,92.5 12.2,91.5 11.4,90 11.1,88 11.3,86 13.1,80.5 13.6,77 14.6,73 14.9,69 15.2,67.5 16.2,65.5 17.4,64 18.5,62.9 20,62.1 21,62 22,62.3 23.5,63.4 24.9,65.5 26.5,69.3 28,71.2 30,72.2 36,74.1 37.5,74.2 39.5,73.8 42.5,72.7 47,70.5 49,69.9 51,69.8 55.5,70 62,69.5 66,69.9 69.7,71 72.5,72.5 75.5,75 76.5,75.3 78,74.9 81.5,73.1 84.1,71.5 85.9,70 86.7,69 87.4,67.5 88.8,62 89.5,61 90.5,60.5 91.5,60.4 92.6,60.5 94,61 94.7,61.5 95.5,62.8 96,66 96.6,67.5 97,68.1 98,68.7 99.5,69 101,68.6 102,67.8 102.9,66.5 104.5,63 105.5,61.9 107.5,60.9 109,60.4 111,60.2 119,60.6 122.5,60.4 124.5,59.8 129,57.6 131,56.9ZM-2.5,98.5 -1.5,98.8 -0.5,99.5 0.6,101 1.4,103.5 1.7,106.5 -3,106.5 -3,98.4 -2.5,98.5Z" fill="#e5a28c"/><path d="M151,-3 159.1,-3 158.9,4 158.4,5.5 157.5,6.4 156,7 154.5,6.9 153,6.3 152,5.2 151.5,4 151.2,2.5 150.9,-1.5 151,-3ZM117,25.5 118.6,25.5 120,25.8 121,26.4 121.4,27 121.7,28.5 121.2,32.5 121.7,36 121.7,37.5 121.5,38.5 121,39.3 119.5,40.8 117.5,41.7 115.5,42 114,41.6 112.2,40.5 110.2,38.5 109.3,37 109.1,36 109.1,35 109.9,31.5 109.5,27.5 110,26.4 111,25.9 117,25.5ZM130,60.5 131.5,60.1 133,60.1 142,60.6 144.5,61.2 145.5,61.7 146.5,62.6 148.5,66.3 149.5,67.7 151,68.8 152.5,69.1 154.5,68.8 155.5,68.4 156.5,67.6 157.6,66 158.2,63.5 158.6,62.5 160,61.3 162,60.5 165,60.2 168.5,60.2 180.5,62.1 180.5,91.8 178,91.8 173.5,91.5 167.5,93 165,93.2 162.5,93.1 159.5,92.6 149.8,90.5 145.5,89 144.5,88.2 144,87.5 144,87 144.3,86.5 145.5,86.2 148.5,86.9 150,86.9 150.5,86.7 151,86.1 151.3,85 151.2,83.5 150.8,80.5 149.8,77 149.2,76 148.5,75.3 147.5,75 146.5,74.9 141.5,75.5 139,76 136.5,76.9 134.9,78 132.9,80 131.2,82.5 130.3,84.5 129.1,88.5 128.5,89.4 128,89.8 126.5,90 123.5,89.5 122,89.5 121,89.8 118,92 115.5,93.2 113.5,93.6 112.5,93.4 111.6,93 110.8,92 110.5,91 110.6,90 111.2,87.5 113.3,82.5 113.7,81 113.7,79 113.2,76.5 111.6,72.5 108.4,67.5 108.3,66 108.7,65 109.1,64.5 110,64 111,63.8 112.5,63.9 118.5,65.1 123,67 124.5,67.2 125.5,66.6 126,66.1 127.9,62 129,61 130,60.5ZM20.5,63.8 21.5,63.8 22,64 23.5,65.3 24.2,66.5 26.5,71.5 28,73.5 31,76 31.9,77 32.4,78 32.7,79.5 32.4,81 30.3,85.5 29.6,89 28.9,90.5 27.4,92 25.2,93.5 23.5,94.3 22,94.6 20.5,94.5 19.5,94.2 16.8,92.5 14.8,90.5 14.3,89.5 14.1,88.5 14.2,87 15.2,83 15.5,77 16.9,69 17.6,67 18.4,65.5 19.5,64.3 20.5,63.8ZM59,73 62,72.6 65,72.7 67.5,73.2 69.3,74 70.5,75.3 71,77 71,79 70.7,80 70.2,81 69.5,81.7 68.5,82.3 62,84.8 56,88.3 54.5,88.5 50.5,87.4 48.5,87.4 46.5,88.2 42.5,91.1 41.5,91.5 40,91.9 38.5,92 37,91.7 35.5,91 34.9,90.5 34.5,90 34.4,89 35.8,85 36.9,81 38.2,79 40.8,76.5 43.5,74.9 47,73.8 49,73.7 51.5,74.1 53,74.2 59,73ZM100,74.4 101,74.1 102.5,74.3 103.5,74.8 104.5,75.8 105.2,77 105.5,78 105.4,79 104.7,80 103.5,80.5 102.5,80.4 101,79.5 100,78.5 99,77 98.9,76 99.2,75 100,74.4ZM82.5,75.8 83.5,75.5 84.5,75.7 85,76.5 85,77 84.8,78 84.1,79 83.5,79.4 82.5,79.7 81.5,79.5 81,79.1 80.6,78.5 80.6,78 81,77 82.5,75.8Z" fill="#e08a6f"/><path d="M165.5,63.4 167,63.2 169,63.5 175.7,66.5 176.5,67.1 177,68 176.8,71 177.2,72.5 180.5,78.8 180.5,82.7 179.6,84 178.5,84.7 177.5,84.7 174.5,83.9 172.5,84.1 170,85.6 166.3,89 165,89.5 163.5,89.6 161.5,89.1 159.5,88.1 158,87.1 156.4,85.5 155.1,83.5 154.3,81.5 153.7,79 153.5,76.5 153.8,75 154.8,73.5 159.8,69.5 161.7,67.5 164,64.3 165.5,63.4ZM141,65 142,64.8 143.3,65 144.1,65.5 145,66.6 145.7,68 146,69.5 145.7,71 145,71.7 143,72.5 138,73.1 134,74.4 132.5,74.8 131.5,74.7 130.6,74.5 129.3,73.5 128.6,72 128.7,70.5 129.5,68.5 131,66.9 132,66.4 133,66.3 136,66.7 137.5,66.6 141,65ZM20.5,65.3 21.5,65.2 22,65.4 22.8,66 23.5,67 27.8,76.5 28.3,78 28.5,79.5 28.2,82 25.6,90.5 25,91.5 24,92.4 23,92.9 22,93.1 20.6,93 19.5,92.5 18.4,91.5 17.6,90 17.2,88.5 17.1,84 16.6,79 16.8,76 17.9,69.5 19,66.7 19.6,66 20.5,65.3ZM59.5,76.4 61,76.2 62.6,76.5 63.8,77.5 64,78 64,79 63,80.3 61.5,81.2 59.5,81.7 57.5,81.6 56.7,81 56.4,80.5 56.5,79 57.5,77.5 59.5,76.4ZM45.5,78 47,78.2 48.5,79.3 49.3,80.5 49.3,82 48.2,83.5 44.5,86.3 42.5,87.5 41,87.7 40.5,87.4 40.2,87 40,85.5 40.2,83.5 40.8,81.5 41.7,80 42.7,79 44,78.3 45.5,78Z" fill="#db7556"/><path d="M21,66.4 22,66.6 22.5,67 23.2,68 24,69.5 25.8,74.5 26.3,77 26.5,79 26.4,81 26.1,82.5 23.6,89 23,90 22.5,90.5 21.5,90.8 20.5,90.3 20,89.6 19.6,88.5 17.9,81 17.5,77.5 17.9,73.5 18.7,69.5 19.6,67.5 20.5,66.6 21,66.4ZM166.5,68.5 168,68.7 169,69.1 170.5,70.2 171.7,71.5 173,73.5 173.9,75.5 174.3,77 174.2,78.5 173.8,79.5 172.6,81 170.5,82.7 168,84.3 166,85.3 164.5,85.7 163,85.8 161.5,85.6 160,85 159,84.3 158,83.3 157.1,82 156.5,80.5 156.2,79 156.3,77.5 156.5,76.5 157.3,75 158,74 161,71.1 164,69.2 165.5,68.6 166.5,68.5Z" fill="#d25a40"/><path d="M20.5,67.9 21,67.7 22,67.8 23,69 24.6,73 25.3,76.5 25.3,79.5 24.7,82 23.5,84.5 22.5,85.5 22,85.7 21.5,85.7 21,85.4 20,83.9 18.9,81 18.3,78 18.3,75 18.8,71.5 19.5,69.3 20.5,67.9ZM164,71 165.5,70.6 167,70.7 168.5,71.2 169.5,71.9 170.5,72.8 171.3,74 172,75.5 172.3,77 172.2,78 171.7,79.5 170,81.5 168.5,82.6 167,83.3 165.5,83.8 164,83.9 162,83.6 161,83.2 160,82.4 159.2,81.5 158.7,80.5 158.3,78.5 158.6,76.5 159.6,74.5 161.5,72.5 164,71Z" fill="#c23b32"/><path d="M21,68.9 21.5,68.8 22,69 23,70.3 24,73 24.5,75.5 24.5,78 24,80.5 23,82.3 22,82.9 21,82.6 20,81.2 19.2,79 18.9,77 18.9,74.5 19.4,71.5 20,69.9 20.5,69.2 21,68.9ZM165,72 167,72 168,72.4 169,73.1 169.9,74 170.5,75 170.9,76 171,77.5 170.8,78.5 170.4,79.5 169,81.1 167,82.2 165.5,82.6 164.5,82.7 162.5,82.2 161,81.2 160.2,80 159.8,78 160.2,76 161.5,74 163,72.8 165,72Z" fill="#a8242f"/><path d="M21,70.2 21.5,70.1 22,70.3 22.6,71 23.4,73 23.8,75 23.8,77 23.5,78.5 23,79.8 22.5,80.5 22,80.8 21.5,80.8 21,80.5 20.5,79.9 19.9,78.5 19.5,76.5 19.5,74.5 19.8,72.5 20.3,71 21,70.2ZM165.5,73 167,73.1 168.5,74 169.6,75.5 170,76.5 170,77.5 169.6,79 168.3,80.5 166.5,81.5 164.5,81.6 163,81.2 162,80.4 161.2,79 161,77.5 161.4,76 162.5,74.4 164,73.4 165.5,73Z" fill="#8c1a2c"/><path d="M21.5,71.4 22,71.7 22.5,72.5 23,74 23.1,75.5 22.9,77 22.5,78.2 22,78.7 21.5,78.8 21,78.4 20.5,77.5 20.1,75 20.5,72.5 21,71.7 21.5,71.4ZM165.5,73.9 167,74.2 168,74.8 168.8,76 169.1,77.5 168.5,79 167.6,80 166.5,80.5 165,80.7 164,80.5 163,79.9 162.4,79 162.1,77.5 162.5,76 163.2,75 164.5,74.2 165.5,73.9Z" fill="#6a1226"/><path d="M21.5,73.6 22,74.1 22.1,75 22,75.7 21.5,76.1 21.1,75 21.5,73.6ZM165.5,75 166.5,75.1 167.5,75.7 168,76.5 168.1,77.5 167.7,78.5 167.3,79 166.5,79.5 165.5,79.7 164.5,79.6 163.7,79 163.4,78.5 163.2,77.5 163.4,76.5 164,75.7 164.5,75.3 165.5,75Z" fill="#4b0c1f"/><path d="M-2,-2 L67.9,-2 L67.9,1.6 L61.5,1.6 L61.5,5.9 L59.4,5.9 L59.4,11.2 L57.2,11.2 L57.2,19.7 L54,19.7 L54,25 L51.9,25 L51.9,29.3 L45.5,29.3 L45.5,34.6 L39.2,34.6 L39.2,38.9 L37,38.9 L37,41.5 L35.1,41.5 L35.1,46.6 L31.3,46.6 L31.3,53 L27.5,53 L27.5,59.3 L23.7,59.3 L23.7,65.7 L19.9,65.7 L19.9,72 L16,72 L16,78.4 L12.2,78.4 L12.2,84.8 L8.4,84.8 L8.4,89.8 L-2,89.8 Z" fill="#ffffff"/><path d="M159.4,-2 L159.4,6 L161.2,6 L161.2,23.2 L162.6,23.2 L162.6,31.1 L165.2,31.1 L165.2,43 L167.8,43 L167.8,50.8 L170.4,50.8 L170.4,58.7 L173.1,58.7 L173.1,63 L179,63 L179,-2 Z" fill="#ffffff"/><path d="M-2,-2 L57.8,-2 L57.8,0 L55,4.1 L53.2,7.8 L52.2,12.4 L51.3,17 L50.4,21.6 L48.6,25.3 L46.2,26.8 L42,28.6 L38.8,29.9 L35.5,31.3 L33.6,32.6 L31.4,35.4 L29.8,39.5 L28.2,44.5 L24.9,49.4 L21.6,54.3 L19.1,58.4 L16,62.5 L12,66.5 L7.5,70 L3,72.5 L-0.5,73.8 L-2,74 Z" fill="#d4cbbd"/><path d="M164.5,-2 L164.5,0 L161.8,7.3 L161,12.6 L161.8,20.6 L164,28.5 L166.3,36.5 L169.8,44.4 L173.5,49.8 L175.9,53.7 L177.5,56.5 L179,57 L179,-2 Z" fill="#d4cbbd"/><path d="M57.8,0 C57.5,0.4 55.5,3.3 55,4.1 C54.5,4.9 53.5,7 53.2,7.8 C52.9,8.6 52.4,11.5 52.2,12.4 C52,13.3 51.5,16.1 51.3,17 C51.1,17.9 50.7,20.8 50.4,21.6 C50.1,22.4 49,24.8 48.6,25.3 C48.2,25.8 46.9,26.5 46.2,26.8 C45.5,27.1 42.7,28.3 42,28.6 C41.3,28.9 39.4,29.6 38.8,29.9 C38.1,30.2 36,31 35.5,31.3 C35,31.6 34,32.2 33.6,32.6 C33.2,33 31.8,34.7 31.4,35.4 C31,36.1 30.1,38.6 29.8,39.5 C29.5,40.4 28.7,43.5 28.2,44.5 C27.7,45.5 25.6,48.4 24.9,49.4 C24.2,50.4 22.2,53.4 21.6,54.3 C21,55.2 19.7,57.6 19.1,58.4 C18.5,59.2 16.7,61.7 16,62.5 C15.3,63.3 12.8,65.8 12,66.5 C11.2,67.2 8.4,69.4 7.5,70 C6.6,70.6 3.8,72.1 3,72.5 C2.2,72.9 -0.1,73.7 -0.5,73.8" fill="none" stroke="#222" stroke-width="0.7"/><path d="M164.5,0 C164.2,0.7 162.2,6 161.8,7.3 C161.5,8.6 161,11.3 161,12.6 C161,13.9 161.5,19 161.8,20.6 C162.1,22.2 163.6,26.9 164,28.5 C164.4,30.1 165.7,34.9 166.3,36.5 C166.9,38.1 169.1,43.1 169.8,44.4 C170.5,45.7 172.9,48.9 173.5,49.8 C174.1,50.7 175.5,53 175.9,53.7 C176.3,54.4 177.3,56.2 177.5,56.5" fill="none" stroke="#222" stroke-width="0.7"/><path d="M15.6,40.2 L10,40.9 L8.8,46.5 L11.1,51 L14.5,53.3" fill="none" stroke="#222" stroke-width="0.7"/><circle cx="39.3" cy="19.8" r="0.6" fill="#222"/><circle cx="37.5" cy="24.4" r="0.7" fill="#222"/><circle cx="38.6" cy="25.6" r="0.7" fill="#222"/><circle cx="32" cy="29.9" r="0.5" fill="#222"/>
<circle cx="74" cy="24" r="0.65" fill="#333"/><circle cx="124.5" cy="13.7" r="0.65" fill="#333"/><circle cx="110.4" cy="65.2" r="0.65" fill="#333"/><circle cx="115.5" cy="74.3" r="0.65" fill="#333"/>
</g>
<rect x="0" y="0" width="177.2" height="103.3" fill="none" stroke="#303030" stroke-width="0.85"/>
<path d="M0,13.8 h2 M177.2,13.8 h-2" stroke="#262626" stroke-width="0.7"/>
<path d="M0,32.3 h2 M177.2,32.3 h-2" stroke="#262626" stroke-width="0.7"/>
<path d="M0,51.9 h2 M177.2,51.9 h-2" stroke="#262626" stroke-width="0.7"/>
<path d="M0,73.4 h2 M177.2,73.4 h-2" stroke="#262626" stroke-width="0.7"/>
<path d="M0,97.5 h2 M177.2,97.5 h-2" stroke="#262626" stroke-width="0.7"/>
<path d="M6.6,0 v2 M6.6,103.3 v-2" stroke="#262626" stroke-width="0.7"/>
<path d="M38.7,0 v2 M38.7,103.3 v-2" stroke="#262626" stroke-width="0.7"/>
<path d="M70.8,0 v2 M70.8,103.3 v-2" stroke="#262626" stroke-width="0.7"/>
<path d="M102.9,0 v2 M102.9,103.3 v-2" stroke="#262626" stroke-width="0.7"/>
<path d="M135,0 v2 M135,103.3 v-2" stroke="#262626" stroke-width="0.7"/>
<path d="M167.1,0 v2 M167.1,103.3 v-2" stroke="#262626" stroke-width="0.7"/>
<text x="4" y="15.3" style="font-size:14px">b)</text>
<text x="-3.2" y="13.8" text-anchor="end" style="font-size:11px" dominant-baseline="central">16°S</text>
<text x="-3.2" y="32.3" text-anchor="end" style="font-size:11px" dominant-baseline="central">24°S</text>
<text x="-3.2" y="51.9" text-anchor="end" style="font-size:11px" dominant-baseline="central">32°S</text>
<text x="-3.2" y="73.4" text-anchor="end" style="font-size:11px" dominant-baseline="central">40°S</text>
<text x="-3.2" y="97.5" text-anchor="end" style="font-size:11px" dominant-baseline="central">48°S</text>
<text x="8.3" y="114.6" text-anchor="middle" style="font-size:11px">60°W</text>
<text x="40.4" y="114.6" text-anchor="middle" style="font-size:11px">45°W</text>
<text x="72.5" y="114.6" text-anchor="middle" style="font-size:11px">30°W</text>
<text x="104.6" y="114.6" text-anchor="middle" style="font-size:11px">15°W</text>
<text x="136.7" y="114.6" text-anchor="middle" style="font-size:11px">0°</text>
<text x="168.8" y="114.6" text-anchor="middle" style="font-size:11px">15°E</text>
</g>
<g transform="translate(468.1,3.9)">
<rect x="0" y="0" width="17.5" height="8.2" fill="#4b0c1f"/><rect x="0" y="7.8" width="17.5" height="8.2" fill="#6a1226"/><rect x="0" y="15.6" width="17.5" height="8.2" fill="#8c1a2c"/><rect x="0" y="23.4" width="17.5" height="8.2" fill="#a8242f"/><rect x="0" y="31.3" width="17.5" height="8.2" fill="#c23b32"/><rect x="0" y="39.1" width="17.5" height="8.2" fill="#d25a40"/><rect x="0" y="46.9" width="17.5" height="8.2" fill="#db7556"/><rect x="0" y="54.7" width="17.5" height="8.2" fill="#e08a6f"/><rect x="0" y="62.5" width="17.5" height="8.2" fill="#e5a28c"/><rect x="0" y="70.3" width="17.5" height="8.2" fill="#e9b9a9"/><rect x="0" y="78.2" width="17.5" height="8.2" fill="#edcfc4"/><rect x="0" y="86" width="17.5" height="8.2" fill="#efe0da"/><rect x="0" y="93.8" width="17.5" height="8.2" fill="#f0eae8"/>
<rect x="0" y="0" width="17.5" height="101.6" fill="none" stroke="#3a3a3a" stroke-width="0.75"/>
</g>
<text x="489.6" y="4.2" style="font-size:11px" dominant-baseline="central">1</text>
<path d="M485.6,4.2 h-1.8" stroke="#333" stroke-width="0.6"/>
<text x="489.6" y="29.5" style="font-size:11px" dominant-baseline="central">0.8</text>
<path d="M485.6,29.5 h-1.8" stroke="#333" stroke-width="0.6"/>
<text x="489.6" y="54.9" style="font-size:11px" dominant-baseline="central">0.6</text>
<path d="M485.6,54.9 h-1.8" stroke="#333" stroke-width="0.6"/>
<text x="489.6" y="80.2" style="font-size:11px" dominant-baseline="central">0.4</text>
<path d="M485.6,80.2 h-1.8" stroke="#333" stroke-width="0.6"/>
<text x="489.6" y="105.5" style="font-size:11px" dominant-baseline="central">0.2</text>
<path d="M485.6,105.5 h-1.8" stroke="#333" stroke-width="0.6"/>
<text transform="translate(514,55.2) rotate(-90)" text-anchor="middle" style="font-size:10px" dominant-baseline="central">(°C)</text>
<g transform="translate(550.1,3.4)"><g clip-path="url(#ax)">
<rect x="-3" y="-3" width="183.2" height="109.3" fill="#f0eae8"/><path d="M-2.5,-3 180.5,-3 180.5,106.5 152.6,106.5 153.7,101.5 153.8,99 153.5,97.9 152.9,97 152,96.4 151,96.3 149.5,96.6 148,97.4 147,98.5 146.6,99.5 146.4,100.5 146.5,102 147.7,106.5 -3,106.5 -3,82.2 -1,82 0.6,81.5 2,80.5 2.4,79.5 2.4,79 1.9,78 0.7,77 -1,76.4 -3,76.3 -3,-3 -2.5,-3Z" fill="#efe0da"/><path d="M-2.5,-3 20.4,-3 19.8,-1.5 18.8,-0.5 15,1.9 10.8,5 6,8 5,9 4.5,10 4.5,11.5 5.4,13.5 7,15.9 11.4,21 12.5,23 14,27.3 14.5,28 15.5,28.5 16,28.4 16.5,28 17.4,26 18.5,18 19,16 19.7,14.5 20.5,13.3 21.5,12.4 25.1,10.5 26.5,9.6 27,9 27.5,8 27.5,7 27.3,6 25.1,0.5 24.4,-3 48.4,-3 48.5,-2 49,-1 50,0 51,0.5 56,1.9 62,5.2 65.5,6.1 71.5,6.7 73,6.6 74.5,6.2 75.7,5.5 76.7,4.5 77.5,3.1 78.1,1.5 78.8,-1 79,-3 91.7,-3 91.8,-2 92.5,-0.7 95.5,2.7 98.3,7.5 99.5,9.1 100.5,10.2 102,11.3 103.5,12 104.5,12.1 105.5,11.9 106.5,10.9 107.5,9.1 108.2,7 108.9,2.5 108.5,-3 166.2,-3 166.5,-1.6 167.2,-0.5 168.5,0.5 170,1 173,1.7 175,1.8 176.5,1.7 180.5,0.8 180.5,24.7 171.5,25.4 165.5,24.9 164.5,25.4 164.1,26 163.7,28 164,30 165,32.1 166,33.3 167.5,34.1 169,34.1 171.5,33.7 178.5,32.1 180.5,31.8 180.5,88.6 178.5,88.9 176.9,89.5 176.1,90 175.6,90.5 175.5,91 175.7,91.5 176.7,92 180.5,92.3 180.5,106.5 160.3,106.5 160.6,105.5 161.2,104.5 164.3,102 165.1,101 165.3,100 165.6,93.5 165.2,92 163.8,90.5 162,89.4 159.5,88.7 157,88.6 154,89.1 144.5,92.7 142.9,93.5 141.4,95 139.8,99 138.8,100.5 137.1,102 132.9,104.5 132.1,105.5 131.7,106.5 86.2,106.5 85.8,105 83.6,101 82.1,96 81.4,95 80.1,94 78.5,93.3 77,93 74.5,93.1 73.5,93.4 72.7,94 70.4,97 69,98.2 68,98.6 66.5,98.8 63.5,98.5 62,97.9 61.2,97 61.1,95.5 61.5,92.5 61.3,91.5 60.8,90.5 59.8,89.5 58.5,88.8 57,88.3 55.5,88.2 53.5,88.3 50.9,89 47.2,90.5 45.8,91.5 45.2,92.5 44.9,96 44.2,98 43.2,99.5 39.6,103.5 39,105 38.8,106.5 -3,106.5 -3,87.1 -1,86.8 1,86.3 4,85.1 6,84 7.5,82.5 8,81.5 8.2,80 8,78.5 7,76.5 2.5,70.7 1.5,69.9 0.5,69.5 -3,69.3 -3,-3 -2.5,-3ZM53.8,16 52.5,16.5 51.5,17.2 50.6,18.5 50.3,19.5 50.4,20.5 51,21.7 51.8,22.5 53,22.9 54,22.9 55,22.6 56.5,21.6 57.8,20 58.2,18.5 58,17.5 57,16.4 55.5,15.9 53.8,16ZM85.8,21.5 81.5,22.2 75,24.8 70.5,25.2 69.5,25.5 68.8,26 67.9,27.5 67.3,31 66.8,32.5 65.7,34.5 64.1,36.5 62.2,38.5 56.8,43 55,46.3 53.9,47 50,47.8 48,48.6 44.4,51 42.1,53 41.5,54 40,57.3 38,59.5 37.4,60.5 37,62.5 37.2,63.5 37.5,64 38.2,64.5 39,64.7 41.5,64.7 43.7,64 46.5,62.4 47.5,62.3 48.5,62.7 51.3,64.5 53,65 54.5,65 57,64.2 61.5,61.3 63,60.8 65,60.4 68.5,60.3 70,60.7 73.5,62.2 75,62.4 76.5,62.2 78.5,61.3 81.2,59 82.8,58 85,57.2 87,56.7 89.5,56.7 94.5,57.8 96.5,58 98.5,57.7 102.5,56.6 104,56.5 108.6,57.5 111,57.7 113,57.5 115.1,57 116.6,56.5 118.3,55.5 118.8,54.5 118.7,54 118,53 116.1,51.5 111,48.8 109.5,47.7 107.8,45.5 104.5,40.3 100.2,35 98.7,33.5 96,31.4 94.5,30 93.2,28 91.5,23.4 90.5,22.1 89,21.3 85.8,21.5ZM131,22 129.9,22.5 129,23.4 128.8,24 128.9,25 131.8,30 134.7,35.5 136,36.7 143,40.4 144,40.8 145,40.6 145.5,40 145.9,38.5 146,37 145.8,35.5 145.3,33.5 142.8,26 142,24.3 140.5,23 137.9,22 134,21.6 131,22ZM145.8,51 144.7,52 144.1,54 144,55 144.3,56 145.1,57 146,57.4 147,57.6 149.6,57.5 152.7,56.5 153.9,55.5 154.1,55 154,54.5 153,53.7 150,52.5 147,51 145.8,51ZM91.9,94 90.4,95 89.8,96 89.7,97 90,101 90.3,102.5 90.8,103.5 92,104.6 93,105 94,105.1 96,104.7 98,103.8 99.5,102.5 100.1,101.5 100.4,100.5 100.5,98.5 99.9,96.5 98.5,95.1 96.5,94.1 94,93.7 91.9,94ZM86.5,37.5 87.5,37.4 88.5,37.7 91.3,39.5 92,40.2 92.3,41 92.2,42 91.8,42.5 90.5,43.2 89,43.2 87.2,42.5 85.9,41.5 85.3,40.5 85.1,39.5 85.5,38.3 86.5,37.5ZM50,102 51,101.7 52.5,101.8 54,102 55.1,102.5 55.7,103 56.2,104 56.6,106.5 48.6,106.5 48.9,103.5 49.4,102.5 50,102Z" fill="#edcfc4"/><path d="M-2.5,-3 5.6,-3 5.3,0 4.5,1.3 3,2.1 0.5,2.7 -3,2.9 -3,-3 -2.5,-3ZM31.5,-3 41.4,-3 41,-0.1 40,2.2 39,3.4 37.5,4.4 36,4.6 34.5,4.1 33,2.7 32,1 31.4,-1.5 31.3,-3 31.5,-3ZM134,-2.7 134.2,-3 142.6,-3 143.2,-1.5 144.5,0.2 146,1.4 147,1.7 148,1.3 149,0.2 149.7,-1.5 150,-3 163.2,-3 163.5,-0.5 164.4,4 164.6,5.5 164.4,7 163.9,8.5 163.2,10 159,15.9 158,17.1 157.5,17.4 157,17.3 155.2,14.5 154,13.2 152,12 150.5,11.8 149.5,12.4 149,13.2 148.5,15 148.4,17 148.7,19 149.5,20 151,20.6 153,21.1 154.5,21.2 156,20.9 156.5,21.2 156.8,22.5 157,26 157.3,28 157.8,29.5 160,33.6 160.8,35.5 161.3,37.5 162.1,43 163.9,46.5 163.9,47 163.5,47.6 162.5,47.8 161.5,47.6 155.5,46.1 154,45.3 153,44.5 150.8,42 149.8,39.5 149,34 147.6,28.5 147.4,26 147.5,22.5 147.3,21.5 147,21 145.5,20.3 137,18.2 134.5,17.2 133.2,16 132,12.8 131.2,11.5 130,10.5 128.5,10.1 127.5,10.1 126.2,10.5 125.5,11 124.7,12 124.6,12.5 124.8,13.5 126.5,16.5 126.5,18 125.5,19.5 121.7,23 120.8,24.5 120.2,26 120,27.5 120,28.5 120.9,32 121,33.5 120.6,38 120.6,42.5 120.3,44 119.9,45 119,46 118,46.4 117,46.4 115.5,46.1 113.5,45.3 112,44.4 111,43.5 109.9,42 109,40 108.6,37.5 109,32 108.8,27 109.3,22 109.3,17 109.5,15 110.5,10.8 111.2,8 112,6.2 113,5.1 114,4.7 119,4.2 122.5,3.2 128,0.2 132.5,-1.6 134,-2.7ZM170,11 171.5,10.7 173.5,10.8 175.5,11.4 179,12.8 180.5,13.1 180.5,20 179,20.2 175,21.2 173.5,21.4 172,21.3 171,21 169.4,20 168.4,19 167.5,17.5 167.1,16 167,15 167.4,13.5 167.9,12.5 169,11.5 170,11ZM96,15.5 97.5,15.3 100,16.1 101.5,17.2 102.4,18.5 103,21 103.3,26 103.1,27 102.6,28 101.5,28.8 100,28.8 98.4,28 97,26.5 96,24.7 94.8,21 94.4,18.5 94.5,17.5 94.9,16.5 95.5,15.7 96,15.5ZM26.5,17.8 27.5,17.7 28.1,18 28.6,18.5 28.8,19.5 28.5,20.9 28,21.9 27,22.9 26.5,23 26,22.8 25.5,22.2 25.1,21 25,20 25.5,18.5 26.5,17.8ZM-2.5,20.8 -0.8,21.5 0.9,23 1.9,24.5 2.2,25.5 2.3,26.5 1.8,28 0.5,29.4 -1,30.3 -3,30.8 -3,20.7 -2.5,20.8ZM59,26.5 60,26.7 61,27.4 61.6,28.5 61.8,30 61.7,31.5 61.1,33.5 60.4,35 59.5,36.3 58.5,37.1 57,38 53.5,38.9 52,38.9 51,38.7 50,38.3 48.9,37.5 47.4,35.5 46.6,33.5 46.6,32 47.5,30.5 48.8,29.5 51,28.4 57,26.8 59,26.5ZM32,29.3 33,29 34.3,29.5 34.9,30.5 35,32 34.4,35 34.1,38 33.8,39 33.2,40 32.6,40.5 31.5,41 31,41 30.2,40.5 30.1,39.5 31.5,35.5 31.2,30.5 31.5,29.7 32,29.3ZM5.5,43.4 6.5,43 7,43.1 7.5,43.3 8.2,44 8.8,45.5 10,49.5 12.2,54.5 13,55.9 14,56.7 16,57.4 18,57.8 27,58.1 29,58.3 31,59 32,59.6 33,60.7 33.5,62 34.2,64.5 34.7,65.5 35.6,66.5 37,67.1 40,67.5 47,67.2 52.5,67.6 54.5,67.5 56.5,67.2 62,65.3 64.5,64.9 66.5,65.1 71,66.4 73,66.7 84,66.7 85.5,66.3 86.9,65.5 87.5,64.5 88.6,62 89.5,61.2 90.5,60.8 92,60.8 96.5,61.2 103,60.5 109.5,61 116,60.2 122,60.2 126,59.3 130,58 131,57.4 132,56.5 132.6,55 132.6,53 132.4,51.5 131.5,48.5 131.5,47 131.9,46 133,45 134,44.5 135,44.4 135.8,44.5 136.5,44.9 137,45.5 137.4,46.5 137.6,48 137.4,52.5 137.7,55 138.1,56.5 138.7,57.5 139.7,58.5 141.1,59.5 143.2,60.5 147.5,61.8 150,62.1 153,61.4 160.5,58.9 163,58.4 165,58.3 170,58.8 172,58.7 174.3,58 175,57.5 175.9,56.5 176.4,55 176.5,51 177,49 177.6,48 178.5,46.9 179.5,46.3 180.5,46 180.5,83.4 178.5,84 172,87.5 169.5,88.3 167,88.3 163,87 160.5,86.4 158,86.2 155.5,86.3 150.5,87 143,89 140.1,90 138,91 136.1,92.5 135.2,94 134.2,97 133,98.7 127.5,102.5 123.5,106 123,106 122.5,105.5 121.8,104 121.5,102.5 121.4,100.5 121.5,98.5 122.7,93.5 122.3,92.5 121.5,92 118.5,91.6 114.5,92.1 111.6,93 107.5,95.1 106,95.6 105,95.2 102.2,93 100.6,92 98,90.9 95.5,90.2 91.5,89.9 85.5,90.6 83.5,90.7 74.5,89.4 67,88.8 64.5,88.3 58.5,85.9 55.5,85.5 53,85.8 44.5,87.5 43,87.9 42,88.6 41.3,89.5 40.9,90.5 40.6,95.5 40,98 39,99.5 35.8,102.5 35.1,103.5 34.5,105 34.3,106.5 26.1,106.5 25.7,105 25.1,104 24.1,103 20.5,100.4 19.3,99 18.5,97.5 17.1,93 16.4,91.5 15,90.3 14,89.9 13,89.9 12.1,90 11.5,90.4 10.9,91.5 11,100 10.3,106.5 -3,106.5 -3,90.7 0,90.5 2.8,90 5.5,89.2 8,88 9,87 9.5,86 10.5,82.1 10.6,80 10.3,78 8.3,72.5 8,71 7.8,69.5 7.9,66 7.5,64 6.5,63.2 5,63.1 3.5,63.4 -0.5,64.6 -3,65 -3,50.2 -1.5,49.8 0,48.8 4.5,44.2 5.5,43.4ZM26.5,51.4 27,51.2 27.5,51.2 28,51.4 28.3,52 28.1,52.5 27.5,52.9 26.5,52.6 26.2,52 26.5,51.4Z" fill="#e9b9a9"/><path d="M153,-3 161.3,-3 162,3 161.9,5.5 161.5,7 160.9,8 160,9 159,9.6 158,10 157,10 155,9.4 152.8,8 151.8,6.5 151.4,5 151.5,3.5 152.6,-1 152.8,-3 153,-3ZM56,32 56.4,32.5 56.2,33 55.5,33.6 54.7,33.5 54.5,33 54.8,32.5 55.5,32.1 56,32ZM-2.5,57.8 -1.5,58 -1.2,58.5 -1.4,59 -2,59.5 -3,59.8 -3,57.7 -2.5,57.8ZM14,59.9 16,59.9 23,60.5 26.3,61 29,61.7 30,62.2 30.9,63 32.3,66 33.5,67.5 35,68.5 37,69.1 39.5,69.3 45,69.4 51,69.8 56,69.2 62.5,67.7 65,67.6 73.5,69.4 80.5,69.4 88,69.7 90,70.4 94,72.7 96,73.2 97,73.1 98,72.8 101,70.9 102.5,70.2 109,68.9 110.7,68 114,65.3 115.5,64.8 117,64.9 118,65.3 119.2,66 124,69.7 125.3,71 126.1,73 126.4,77 126.7,78.5 127.3,80 128,80.8 128.5,81 129.5,80.9 130.5,80.2 134,77.3 135.5,76.6 136.5,76.6 138.5,77.8 140.5,80 142,82.5 142.3,83.5 142.3,84.5 141.9,85.5 141.4,86 139.9,87 137,88.2 134,88.7 131.7,88.5 128.5,87.3 127,87 117,88 114.5,87.9 109.5,87.2 103,87.9 101,87.7 96.5,86.7 94,86.5 91,86.8 85.5,88.1 82.5,88.3 77.5,87.8 67.5,86 64.9,85 61.1,82.5 59.5,81.9 51.5,81.5 50,81.6 46,83.4 42,84.8 40.5,85.7 39.2,87 37.8,89 37.3,90.5 37.2,91.5 37.7,94.5 37.6,96 37.1,97.5 36.2,98.5 34.5,99.6 32.5,100.4 31,100.7 29,100.5 24.5,99.1 23,98.3 22,97.5 21,96.1 19.5,92.5 18.3,90.5 16.9,89 13.5,86.7 12.7,85.5 12.4,84 12.2,79 10.7,72.5 10.5,69.5 11.1,63.5 11.4,62 11.9,61 12.5,60.5 14,59.9ZM133.5,61.5 135.5,61.2 138,61.4 141.5,62.5 144.5,63.8 146,64.9 146.9,66 148.2,68.5 148.4,69.5 147.6,70.5 146.5,71.5 145,72.4 143.5,73.1 136.5,75.3 135.5,75.2 134.5,74.7 132.5,73.2 131.2,71.5 130.3,69 129.7,65.5 129.8,64 130.5,63 132,62 133.5,61.5ZM162.5,62.9 164.5,62.6 166.5,62.7 169,63.4 170.5,64.3 171.6,65.5 174.5,70.6 177.4,74.5 177.5,75 177.1,76 175,78.5 172.5,83 171,84.5 169.5,85.3 168.5,85.5 167,85.5 161,84.5 154,83.7 152.4,83 151.8,82.5 151.3,81.5 150.5,74.8 149.1,70 149,69.5 149.3,69 150.9,67.5 153,66.2 158.5,64.7 162.5,62.9ZM-2.5,95.8 -2,96 -1.6,96.5 -1.7,97 -2.3,97.5 -3,97.7 -3,95.6 -2.5,95.8Z" fill="#e5a28c"/><path d="M156,-3 158.9,-3 159.9,2.5 159.9,4.5 159.5,5.8 158.5,6.8 157.5,7.2 156.5,7.1 155.4,6.5 154.6,5.5 154.3,4.5 154.4,2.5 156,-3ZM15,62.4 16.5,62.2 20,62.4 22.5,62.9 24,63.4 26,64.7 32,69.7 33.5,70.8 35,71.4 42,72.5 43.5,73 44.4,74 44.5,75 44.2,76 43.7,77 42.5,78.3 36.5,83.9 35.1,85 32.5,86.3 27.5,88.1 23.5,90.5 22.5,90.7 21.5,90.5 20,89.6 15.7,86 14.9,85 14.5,84 13.9,78.5 12.5,72.5 12.4,70 12.7,67.5 13.3,64.5 14,63.1 15,62.4ZM136.5,65 137.5,64.9 139,65.1 140.2,65.5 141.5,66.2 142.3,67 142.6,67.5 142.6,68.5 142.3,69 141,69.8 139.5,70.2 137.5,70.3 136,69.8 135,68.8 134.7,68 134.7,67 135,66 135.4,65.5 136.5,65ZM163,67.5 166,67.4 167.5,67.6 168.5,68 169.5,68.7 170.3,69.5 171.3,71.5 171.6,73 171.6,74.5 170.9,78.5 169.9,81 169,82 168,82.6 166.5,82.9 164.5,82.9 161,82.5 157.9,82 156.3,81.5 155.3,81 154.5,80.2 153.9,79 153.4,76.5 153.1,73 153.4,71 154,70 155,69.3 156,68.9 163,67.5ZM58.5,71 63,70.5 65.5,70.8 67.6,72 70.5,74.6 72,75.2 73.5,75.5 75.5,75.2 78.8,73.5 81,72.8 84,72.6 86,72.9 87.8,74 88.6,75 89.2,76 89.6,77.5 89.6,78.5 89.1,81 87.9,83.5 86.4,85 85.4,85.5 84,85.9 80.5,85.9 75.7,85 71.4,83.5 69.3,82 66,78.1 65,77.3 63.5,76.7 62.5,76.5 61.5,76.5 57.8,78 56,78.3 54,78 52.5,77 51.8,76 51.5,75 51.5,74 52.1,73 53,72.3 54.5,71.6 58.5,71ZM118,75.8 119,76 120,77 121.4,79.5 121.8,81.5 121.6,82.5 121,83.3 120,83.9 118.5,84.2 117,84 116,83.5 115.6,83 115.3,82 115.5,80.5 116.5,77.9 117.2,76.5 118,75.8Z" fill="#e08a6f"/><path d="M18,65.9 20,65.9 21.5,66.2 23,66.8 24.5,67.8 26.4,69.5 31.2,74.5 32.3,76 32.9,77.5 32.9,78.5 32.5,80 31.8,81.5 30.5,83.2 29,84.5 26.2,86.5 24.5,87.5 23,88.2 22,88.2 21,88 19.3,87 17.3,85 16.4,83 15.8,78 14.5,72.5 14.5,70.5 14.9,68.5 15.5,67.3 16.5,66.4 18,65.9ZM162.5,70 165,70 166.9,70.5 168.2,71.5 168.9,73 169,75.5 168.2,78 167,79.5 166,80.1 165,80.5 162,80.6 160.5,80.4 159,79.9 158,79.3 157.2,78.5 156.6,77.5 156.3,76.5 156.1,75 156.2,74 156.6,73 157.3,72 158,71.4 159.5,70.7 162.5,70ZM82.5,76 84,75.9 85,76.3 85.6,77 86,78.5 85.5,79.8 84.5,80.9 83.5,81.4 82,81.6 81,81.3 80,80.5 79.8,80 79.6,79 79.9,78 80.6,77 81.5,76.4 82.5,76Z" fill="#db7556"/><path d="M20,69.4 21,69.4 22,69.7 23,70.3 24,71.2 26.2,75 26.9,76.5 27.3,78 27.1,80.5 26.7,82 25.9,83.5 25.2,84.5 24.1,85.5 22.5,86.2 21,86 19.7,85 18.8,83.5 18.4,82 17.5,73.5 17.5,72 17.8,71 18.5,70.1 20,69.4ZM161.5,72.9 163,72.6 164,72.7 165,73.2 165.5,73.7 165.9,75 165.8,76 165.2,77 164.5,77.6 163.4,78 162,78.1 161,77.8 159.9,77 159.4,76 159.6,74.5 160.4,73.5 161.5,72.9Z" fill="#d25a40"/><path d="M22,76.3 22.5,76.5 23,77.2 23.5,79.5 23.4,80.5 23,81.9 22.5,82.4 22,82.4 21.5,82 21.3,81.5 21,79.5 21.4,77 21.5,76.6 22,76.3Z" fill="#c23b32"/><path d="M-2,-2 L67.9,-2 L67.9,1.6 L61.5,1.6 L61.5,5.9 L59.4,5.9 L59.4,11.2 L57.2,11.2 L57.2,19.7 L54,19.7 L54,25 L51.9,25 L51.9,29.3 L45.5,29.3 L45.5,34.6 L39.2,34.6 L39.2,38.9 L37,38.9 L37,41.5 L35.1,41.5 L35.1,46.6 L31.3,46.6 L31.3,53 L27.5,53 L27.5,59.3 L23.7,59.3 L23.7,65.7 L19.9,65.7 L19.9,72 L16,72 L16,78.4 L12.2,78.4 L12.2,84.8 L8.4,84.8 L8.4,89.8 L-2,89.8 Z" fill="#ffffff"/><path d="M159.4,-2 L159.4,6 L161.2,6 L161.2,23.2 L162.6,23.2 L162.6,31.1 L165.2,31.1 L165.2,43 L167.8,43 L167.8,50.8 L170.4,50.8 L170.4,58.7 L173.1,58.7 L173.1,63 L179,63 L179,-2 Z" fill="#ffffff"/><path d="M-2,-2 L57.8,-2 L57.8,0 L55,4.1 L53.2,7.8 L52.2,12.4 L51.3,17 L50.4,21.6 L48.6,25.3 L46.2,26.8 L42,28.6 L38.8,29.9 L35.5,31.3 L33.6,32.6 L31.4,35.4 L29.8,39.5 L28.2,44.5 L24.9,49.4 L21.6,54.3 L19.1,58.4 L16,62.5 L12,66.5 L7.5,70 L3,72.5 L-0.5,73.8 L-2,74 Z" fill="#d4cbbd"/><path d="M164.5,-2 L164.5,0 L161.8,7.3 L161,12.6 L161.8,20.6 L164,28.5 L166.3,36.5 L169.8,44.4 L173.5,49.8 L175.9,53.7 L177.5,56.5 L179,57 L179,-2 Z" fill="#d4cbbd"/><path d="M57.8,0 C57.5,0.4 55.5,3.3 55,4.1 C54.5,4.9 53.5,7 53.2,7.8 C52.9,8.6 52.4,11.5 52.2,12.4 C52,13.3 51.5,16.1 51.3,17 C51.1,17.9 50.7,20.8 50.4,21.6 C50.1,22.4 49,24.8 48.6,25.3 C48.2,25.8 46.9,26.5 46.2,26.8 C45.5,27.1 42.7,28.3 42,28.6 C41.3,28.9 39.4,29.6 38.8,29.9 C38.1,30.2 36,31 35.5,31.3 C35,31.6 34,32.2 33.6,32.6 C33.2,33 31.8,34.7 31.4,35.4 C31,36.1 30.1,38.6 29.8,39.5 C29.5,40.4 28.7,43.5 28.2,44.5 C27.7,45.5 25.6,48.4 24.9,49.4 C24.2,50.4 22.2,53.4 21.6,54.3 C21,55.2 19.7,57.6 19.1,58.4 C18.5,59.2 16.7,61.7 16,62.5 C15.3,63.3 12.8,65.8 12,66.5 C11.2,67.2 8.4,69.4 7.5,70 C6.6,70.6 3.8,72.1 3,72.5 C2.2,72.9 -0.1,73.7 -0.5,73.8" fill="none" stroke="#222" stroke-width="0.7"/><path d="M164.5,0 C164.2,0.7 162.2,6 161.8,7.3 C161.5,8.6 161,11.3 161,12.6 C161,13.9 161.5,19 161.8,20.6 C162.1,22.2 163.6,26.9 164,28.5 C164.4,30.1 165.7,34.9 166.3,36.5 C166.9,38.1 169.1,43.1 169.8,44.4 C170.5,45.7 172.9,48.9 173.5,49.8 C174.1,50.7 175.5,53 175.9,53.7 C176.3,54.4 177.3,56.2 177.5,56.5" fill="none" stroke="#222" stroke-width="0.7"/><path d="M15.6,40.2 L10,40.9 L8.8,46.5 L11.1,51 L14.5,53.3" fill="none" stroke="#222" stroke-width="0.7"/><circle cx="39.3" cy="19.8" r="0.6" fill="#222"/><circle cx="37.5" cy="24.4" r="0.7" fill="#222"/><circle cx="38.6" cy="25.6" r="0.7" fill="#222"/><circle cx="32" cy="29.9" r="0.5" fill="#222"/>
<circle cx="74" cy="24" r="0.65" fill="#333"/><circle cx="124.5" cy="13.7" r="0.65" fill="#333"/><circle cx="110.4" cy="65.2" r="0.65" fill="#333"/><circle cx="115.5" cy="74.3" r="0.65" fill="#333"/>
</g>
<rect x="0" y="0" width="177.2" height="103.3" fill="none" stroke="#303030" stroke-width="0.85"/>
<path d="M0,13.8 h2 M177.2,13.8 h-2" stroke="#262626" stroke-width="0.7"/>
<path d="M0,32.3 h2 M177.2,32.3 h-2" stroke="#262626" stroke-width="0.7"/>
<path d="M0,51.9 h2 M177.2,51.9 h-2" stroke="#262626" stroke-width="0.7"/>
<path d="M0,73.4 h2 M177.2,73.4 h-2" stroke="#262626" stroke-width="0.7"/>
<path d="M0,97.5 h2 M177.2,97.5 h-2" stroke="#262626" stroke-width="0.7"/>
<path d="M6.6,0 v2 M6.6,103.3 v-2" stroke="#262626" stroke-width="0.7"/>
<path d="M38.7,0 v2 M38.7,103.3 v-2" stroke="#262626" stroke-width="0.7"/>
<path d="M70.8,0 v2 M70.8,103.3 v-2" stroke="#262626" stroke-width="0.7"/>
<path d="M102.9,0 v2 M102.9,103.3 v-2" stroke="#262626" stroke-width="0.7"/>
<path d="M135,0 v2 M135,103.3 v-2" stroke="#262626" stroke-width="0.7"/>
<path d="M167.1,0 v2 M167.1,103.3 v-2" stroke="#262626" stroke-width="0.7"/>
<text x="4" y="15.3" style="font-size:14px">c)</text>
<text x="-3.2" y="13.8" text-anchor="end" style="font-size:11px" dominant-baseline="central">16°S</text>
<text x="-3.2" y="32.3" text-anchor="end" style="font-size:11px" dominant-baseline="central">24°S</text>
<text x="-3.2" y="51.9" text-anchor="end" style="font-size:11px" dominant-baseline="central">32°S</text>
<text x="-3.2" y="73.4" text-anchor="end" style="font-size:11px" dominant-baseline="central">40°S</text>
<text x="-3.2" y="97.5" text-anchor="end" style="font-size:11px" dominant-baseline="central">48°S</text>
<text x="8.3" y="114.6" text-anchor="middle" style="font-size:11px">60°W</text>
<text x="40.4" y="114.6" text-anchor="middle" style="font-size:11px">45°W</text>
<text x="72.5" y="114.6" text-anchor="middle" style="font-size:11px">30°W</text>
<text x="104.6" y="114.6" text-anchor="middle" style="font-size:11px">15°W</text>
<text x="136.7" y="114.6" text-anchor="middle" style="font-size:11px">0°</text>
<text x="168.8" y="114.6" text-anchor="middle" style="font-size:11px">15°E</text>
</g>
<g transform="translate(730.3,3.9)">
<rect x="0" y="0" width="17.5" height="8.2" fill="#4b0c1f"/><rect x="0" y="7.8" width="17.5" height="8.2" fill="#6a1226"/><rect x="0" y="15.6" width="17.5" height="8.2" fill="#8c1a2c"/><rect x="0" y="23.4" width="17.5" height="8.2" fill="#a8242f"/><rect x="0" y="31.3" width="17.5" height="8.2" fill="#c23b32"/><rect x="0" y="39.1" width="17.5" height="8.2" fill="#d25a40"/><rect x="0" y="46.9" width="17.5" height="8.2" fill="#db7556"/><rect x="0" y="54.7" width="17.5" height="8.2" fill="#e08a6f"/><rect x="0" y="62.5" width="17.5" height="8.2" fill="#e5a28c"/><rect x="0" y="70.3" width="17.5" height="8.2" fill="#e9b9a9"/><rect x="0" y="78.2" width="17.5" height="8.2" fill="#edcfc4"/><rect x="0" y="86" width="17.5" height="8.2" fill="#efe0da"/><rect x="0" y="93.8" width="17.5" height="8.2" fill="#f0eae8"/>
<rect x="0" y="0" width="17.5" height="101.6" fill="none" stroke="#3a3a3a" stroke-width="0.75"/>
</g>
<text x="751.8" y="24.5" style="font-size:11px" dominant-baseline="central">0.4</text>
<path d="M747.8,24.5 h-1.8" stroke="#333" stroke-width="0.6"/>
<text x="751.8" y="45" style="font-size:11px" dominant-baseline="central">0.3</text>
<path d="M747.8,45 h-1.8" stroke="#333" stroke-width="0.6"/>
<text x="751.8" y="65.5" style="font-size:11px" dominant-baseline="central">0.2</text>
<path d="M747.8,65.5 h-1.8" stroke="#333" stroke-width="0.6"/>
<text x="751.8" y="86" style="font-size:11px" dominant-baseline="central">0.1</text>
<path d="M747.8,86 h-1.8" stroke="#333" stroke-width="0.6"/>
<text x="751.8" y="106.5" style="font-size:11px" dominant-baseline="central">0</text>
<path d="M747.8,106.5 h-1.8" stroke="#333" stroke-width="0.6"/>
<text transform="translate(780.5,54) rotate(-90)" text-anchor="middle" style="font-size:10px" dominant-baseline="central">(ºC decade<tspan dy="-3" style="font-size:6.5px">-1</tspan><tspan dy="3">)</tspan></text>
<g transform="translate(27.5,128.5)"><g clip-path="url(#ax)">
<rect x="-3" y="-3" width="183.2" height="109.3" fill="#444a84"/><path d="M-2.5,-3 62.5,-3 66,-2 69.2,-0.5 77.5,5.9 80,7.2 90,9.3 92,9.4 96,9.3 100,9.9 101.5,9.6 102.5,8.9 103.1,8 104.4,5.5 104.8,3.5 104.7,0 104.8,-3 180.5,-3 180.5,106.5 -3,106.5 -3,-3 -2.5,-3Z" fill="#5a6bc5"/><path d="M124,-3 180.5,-3 180.5,106.5 -3,106.5 -3,6.9 12.5,6.3 20.5,6.5 26,6.9 40,8.7 53,9.9 62,11.5 69.5,14.3 72,15.1 80.5,16.7 88.5,18.8 94.5,19.6 97.5,20.8 100.5,23 103.5,23.9 107,24.4 115,25.2 122,25.6 129,26.2 131,26.1 132.7,25.5 134.6,24.5 137.6,22 138.3,21 138.9,19.5 139,18.5 138.8,17 138.2,15.5 137,13.5 132.2,8 126.7,1 124,-3Z" fill="#419fd8"/><path d="M137,-3 180.5,-3 180.5,106.5 -3,106.5 -3,19.9 10.5,19.6 18.5,19.9 22,20.3 31.5,22.3 37,22.9 49.5,23.2 55,22.6 57.5,22.5 60.5,22.8 69,24 73.5,24.4 85,24.7 94.5,24.4 97.3,25 101,27.4 104,28.7 107.5,29.5 113.5,30.6 121,31.3 130.5,31.6 142.5,32.6 145,32.4 148,31.8 149.5,31.2 150.6,30.5 151.5,29.5 151.8,28.5 152,26.5 151.9,24 151.5,21 151,19.2 149.1,14 147.6,11 146.5,9.6 143,6.5 141.2,4.5 139.9,2.5 137,-3Z" fill="#9ccbe0"/><path d="M144.5,-3 180.5,-3 180.5,106.5 -3,106.5 -3,32.5 4,32.7 10.5,33.3 16.5,34.2 29.5,37 34,37.5 38.5,37.7 42,37.3 47,34.9 49,34.3 51,33.9 73,32.7 90,30.9 93,30.8 96,31.3 101,33.2 104,34.1 117,36.1 130,36.9 141,38.5 147,39 156.5,38.9 160,38.5 161.9,38 163,37 164.1,35 164.4,33 164,31 163.1,29.5 160.9,26.5 160,25 158.9,20 158.2,17.5 154.1,9 152.8,7 151.5,5.5 145.5,0.4 144.6,-1.5 144.2,-3 144.5,-3Z" fill="#d0dde6"/><path d="M180.5,38.9 180.5,106.5 -3,106.5 -3,44.5 3,44.6 8.5,45.1 14,46 25,48.4 28,48.8 30,48.8 35,48 38,47.2 40.5,46.2 45.2,44 46.5,43.6 49,43.4 56.5,43.5 60.5,43.3 64,42.8 76,40.7 81.5,40.2 86,40 90.5,40.3 98,41.9 108.5,41.8 119,42.2 132.5,43.8 140.5,44.4 148.5,45.7 153,45.9 156,45.7 158.5,45.1 160.5,44.3 164,42.4 165.2,42 176.5,39.8 180.5,38.9Z" fill="#f5f3f1"/><path d="M82,49.5 89,49.5 95,50.4 99,50.7 111,50.6 117,50.8 119.5,51 130,52.7 140,53.2 151.5,54.5 155.5,54.5 162.5,53.8 165.5,53.8 168.5,54.2 176,56 178,56.2 180.5,56 180.5,106.5 -3,106.5 -3,55.6 3.5,55.2 10,55.5 15.5,56.3 28.5,59 32.2,59.5 35,59.6 38,59 46.5,56.9 54.5,56.2 56,55.9 60.7,54.5 70,51.1 72.5,50.4 76.5,49.8 82,49.5Z" fill="#f4dfd9"/><path d="M98.5,59.5 104,59.5 109,59.8 121,61.8 132,61.5 138.5,61.7 142.5,62.2 150.5,63.7 153,64 156,64 161.5,63.5 165,63.5 169,63.8 176,65 178.5,65.1 180.5,64.9 180.5,106.5 -3,106.5 -3,67.1 3.5,65.4 6.5,65 9.5,64.9 14,65.2 28.5,67 33.5,67.2 37.5,67 42,66.5 52.5,64.6 66,62.9 75,60.9 78.5,60.3 83,60 89.5,60.2 98.5,59.5Z" fill="#efb8a2"/><path d="M87.5,67.5 91,67.3 97.5,67.3 120,68.4 136,68.7 143.5,69.2 153.5,70.5 161,69.5 165.5,69.3 171,69.5 177.5,70.5 180.5,70.1 180.5,106.5 -3,106.5 -3,84.8 -0.3,82.5 2,80.8 4.5,79.2 6.9,78 11,76.7 16.5,75.9 31.5,75.1 38.5,74.9 42,74.6 46.5,73.8 54.5,71.8 65,71.3 71.5,70.7 81.5,68.4 87.5,67.5Z" fill="#e37b60"/><path d="M177,73 178,73 180.5,73.6 180.5,106.5 18.1,106.5 18.6,103.5 19.1,97.5 19.6,95 20.8,92.5 21.5,91.7 22.6,91 25,90 27.6,89.5 39.5,88.9 43,88.4 46.5,87.7 61,82.9 69.3,79.5 73,78.3 86,76 89.5,75.5 92.5,75.7 101.5,76.7 106.5,76.8 111.5,76.4 120.5,75 130.5,75.6 139,75.5 146.5,75 154,74 159.5,74.3 165.5,74.2 171,73.8 177,73Z" fill="#b93a72"/><path d="M168.5,80.5 175,80.1 176.5,80.3 180.5,81.4 180.5,106.5 122.9,106.5 124.2,105 125.1,103.5 127.3,96 128.9,92.5 130.3,90.5 131.6,89 133.5,87.5 135.1,86.5 137.2,85.5 139.5,84.7 154.5,81 157.5,80.7 168.5,80.5ZM77.5,103.4 80,103 82.5,103.3 85,104.3 88.7,106.5 71.6,106.5 74.5,104.7 77.5,103.4Z" fill="#7d2c48"/><path d="M180.5,103.2 164.5,104 147.5,104.3 138,104.6 128,105.3 113.3,106.5" fill="none" stroke="#1a1a1a" stroke-width="0.6" stroke-linejoin="round"/><path d="M180.5,97.8 164,98.9 145.5,99.1 132.5,99.5 105.5,101.6 75,103.1 60.5,103.7 45,104.7 39.5,104.8 30.5,104.2 27,104.2 9,105.9 -3,106.4" fill="none" stroke="#1a1a1a" stroke-width="0.6" stroke-linejoin="round"/><path d="M180.5,92.6 170.5,93.6 163,94.1 138,94 129.5,94.3 105.5,96.2 90,96.8 74.5,97.9 59.5,98.2 41.5,99.7 36,99.7 28.5,99 9.5,100.1 4,100.2 -3,100" fill="none" stroke="#1a1a1a" stroke-width="0.6" stroke-linejoin="round"/><path d="M180.5,87.4 171.5,88.8 164.5,89.4 156.5,89.5 135,89 128.5,89.1 107,90.9 89.5,91.6 75,92.9 70,93 61.5,92.7 58,92.8 42,94.6 36,95 33,95 28,94.4 24.5,94.3 7.5,94.5 -3,93.5" fill="none" stroke="#1a1a1a" stroke-width="0.6" stroke-linejoin="round"/><path d="M180.5,82.2 171,84.2 164.5,84.9 154.5,84.9 132,83.9 127.5,83.9 106,85.8 89.5,86.7 73.5,88 67.5,88.1 58.5,87.4 54,87.5 40,89.3 35,89.7 22.5,88.9 8,88.6 2,87.9 -3,86.8" fill="none" stroke="#1a1a1a" stroke-width="0.6" stroke-linejoin="round"/><path d="M180.5,77.3 177,78 171,79.7 165.5,80.3 160.5,80.4 143,79.9 130,79 125.5,79 119,79.4 103,81 89,81.7 75.5,82.7 69.5,82.9 66,82.8 59,81.5 55,81.2 50.5,81.4 40,82.7 35.5,83 31.5,82.9 21,82.3 10.5,81.9 7.5,81.6 4.5,80.8 0.7,79.5 -3,77.9" fill="none" stroke="#1a1a1a" stroke-width="0.6" stroke-linejoin="round"/><path d="M138.4,-3 150,0 160.5,3.4 165,4.6 170.5,5.6 180.5,6.6M180.5,72.6 177,74 174.5,74.7 171,75.4 168,75.7 164,75.7 153,75.1 138.5,75.4 124,74.1 121,74 117,74.2 108.5,75.4 102.5,76 81.5,76.9 74.5,76.9 71,76.7 68,76.3 60,74 57,73.6 51.5,73.5 38,74.2 33.5,74 29,73.5 22.6,72.5 15.3,71 11.5,69.8 8,68.1 5.1,66 2.5,63.5 0.3,60.5 -1.2,57.5 -2.2,54 -2.5,51 -2,48 -0.9,45.5 0.1,44 1.5,42.6 3,41.5 5,40.3 9,38.7 19,35.8 23,34.4 26.9,32.5 29.5,30.5 30.5,29.3 31.7,27 36.5,14 38.1,10.5 39.8,7.5 42,4.4 44.5,1.5 47.4,-1 50.3,-3" fill="none" stroke="#1a1a1a" stroke-width="0.6" stroke-linejoin="round"/><path d="M180.5,64.3 178.6,66.5 176.2,68.5 173.5,70 171.5,70.4 168,70.3 159,69.3 155,69.1 151,69.5 142,71 136,71.1 129,70.4 121,68.7 119.5,68.5 111,70 106,70.5 86,70.8 79,70.6 74.5,70.1 70.5,69.2 66.4,68 57,64.8 45.4,62 42,61 39.5,59.6 37.9,58 36.9,56 36.5,53.5 37,50.5 38.6,46.5 48.4,27.5 50.5,24 53,20.7 55.5,18 58,16 60,14.8 62,13.9 67,12.6 72,11.9 82,11.3 94,8.3 98,7.7 102,7.5 106.5,7.7 116.5,8.8 123,10 138.5,14.8 142.5,16.5 146.5,18.5 149.5,20.5 152.5,22.9 158.3,28.5 160.9,31.5 163.7,36 168.3,46.5 169.1,48 170,49.2 171.5,50.1 177.5,50.8 179,51.2 180.5,52.1" fill="none" stroke="#1a1a1a" stroke-width="0.6" stroke-linejoin="round"/><path d="M99,18.5 104.5,18.4 115,18.8 119,19.2 122.5,19.7 128,21.1 134.5,23.2 139.5,25.2 143,27.2 147.4,30.5 151.3,34 154.3,37.5 156.5,41 158.2,45 159.6,49.5 160.2,52 160.4,54 160.3,55.5 160,57 159.5,58 158,59.5 156.5,60.4 150,62.8 146,64.9 144,65.7 142,66.3 139.5,66.8 134,66.9 128,66.3 118.5,64.6 116,64.6 111,65 108.5,65 94.5,63.8 84.5,63.3 81.5,62.9 76.6,61.5 71.5,59.2 67.2,56.5 63.2,53 61.1,50.5 59.8,48 59,45 58.9,42 59.5,39 60.5,36.5 62.4,33.5 65.1,30.5 68,28.1 71,26.2 74.5,24.4 79.3,22.5 82.5,21.5 90.5,19.7 95,18.9 99,18.5" fill="none" stroke="#1a1a1a" stroke-width="0.6" stroke-linejoin="round"/><path d="M117,29 119.5,29 121.5,29.2 131.5,32.3 135,33.6 138.5,35.1 141.5,36.7 144,38.4 146.5,40.3 148.7,42.5 150.5,44.7 151.9,47 152.5,48.5 152.8,50 152.5,51.5 151.5,53.5 149.6,55.5 145.8,58.5 142.8,60.5 140.5,61.5 138,62 134.5,62.1 124,61.5 107.9,56.5 100.4,53.5 96.7,51.5 92.2,48.5 90.4,47 88.9,45 88.2,43.5 88,41.5 88.1,39.5 88.7,37.5 89.9,35.5 91.2,34 92.9,32.5 94.5,31.5 96.7,30.5 99.5,30 117,29" fill="none" stroke="#1a1a1a" stroke-width="0.6" stroke-linejoin="round"/><path d="M-2,-2 L66,-2 L66,0 L62.6,0 L62.6,3.8 L59.4,3.8 L59.4,9.1 L56.2,9.1 L56.2,13.3 L58.3,13.3 L58.3,21.9 L54.1,21.9 L54.1,27.2 L50.9,27.2 L50.9,31.4 L43.4,31.4 L43.4,36.7 L38.1,36.7 L38.1,41 L36,41 L36,45.3 L33.8,45.3 L33.8,51.4 L30,51.4 L30,55 L26,55 L26,61.1 L22,61.1 L22,66.2 L14.9,66.2 L14.9,72.4 L11.8,72.4 L11.8,77.5 L8.7,77.5 L8.7,86.5 L-2,86.5 Z" fill="#ffffff"/><path d="M159.4,-2 L159.4,6 L161.2,6 L161.2,23.2 L162.6,23.2 L162.6,31.1 L165.2,31.1 L165.2,43 L167.8,43 L167.8,50.8 L170.4,50.8 L170.4,58.7 L173.1,58.7 L173.1,63 L179,63 L179,-2 Z" fill="#ffffff"/><path d="M-2,-2 L57.8,-2 L57.8,0 L55,4.1 L53.2,7.8 L52.2,12.4 L51.3,17 L50.4,21.6 L48.6,25.3 L46.2,26.8 L42,28.6 L38.8,29.9 L35.5,31.3 L33.6,32.6 L31.4,35.4 L29.8,39.5 L28.2,44.5 L24.9,49.4 L21.6,54.3 L19.1,58.4 L16,62.5 L12,66.5 L7.5,70 L3,72.5 L-0.5,73.8 L-2,74 Z" fill="#d4cbbd"/><path d="M164.5,-2 L164.5,0 L161.8,7.3 L161,12.6 L161.8,20.6 L164,28.5 L166.3,36.5 L169.8,44.4 L173.5,49.8 L175.9,53.7 L177.5,56.5 L179,57 L179,-2 Z" fill="#d4cbbd"/><path d="M57.8,0 C57.5,0.4 55.5,3.3 55,4.1 C54.5,4.9 53.5,7 53.2,7.8 C52.9,8.6 52.4,11.5 52.2,12.4 C52,13.3 51.5,16.1 51.3,17 C51.1,17.9 50.7,20.8 50.4,21.6 C50.1,22.4 49,24.8 48.6,25.3 C48.2,25.8 46.9,26.5 46.2,26.8 C45.5,27.1 42.7,28.3 42,28.6 C41.3,28.9 39.4,29.6 38.8,29.9 C38.1,30.2 36,31 35.5,31.3 C35,31.6 34,32.2 33.6,32.6 C33.2,33 31.8,34.7 31.4,35.4 C31,36.1 30.1,38.6 29.8,39.5 C29.5,40.4 28.7,43.5 28.2,44.5 C27.7,45.5 25.6,48.4 24.9,49.4 C24.2,50.4 22.2,53.4 21.6,54.3 C21,55.2 19.7,57.6 19.1,58.4 C18.5,59.2 16.7,61.7 16,62.5 C15.3,63.3 12.8,65.8 12,66.5 C11.2,67.2 8.4,69.4 7.5,70 C6.6,70.6 3.8,72.1 3,72.5 C2.2,72.9 -0.1,73.7 -0.5,73.8" fill="none" stroke="#222" stroke-width="0.7"/><path d="M164.5,0 C164.2,0.7 162.2,6 161.8,7.3 C161.5,8.6 161,11.3 161,12.6 C161,13.9 161.5,19 161.8,20.6 C162.1,22.2 163.6,26.9 164,28.5 C164.4,30.1 165.7,34.9 166.3,36.5 C166.9,38.1 169.1,43.1 169.8,44.4 C170.5,45.7 172.9,48.9 173.5,49.8 C174.1,50.7 175.5,53 175.9,53.7 C176.3,54.4 177.3,56.2 177.5,56.5" fill="none" stroke="#222" stroke-width="0.7"/><path d="M15.6,40.2 L10,40.9 L8.8,46.5 L11.1,51 L14.5,53.3" fill="none" stroke="#222" stroke-width="0.7"/><circle cx="39.3" cy="19.8" r="0.6" fill="#222"/><circle cx="37.5" cy="24.4" r="0.7" fill="#222"/><circle cx="38.6" cy="25.6" r="0.7" fill="#222"/><circle cx="32" cy="29.9" r="0.5" fill="#222"/><text x="119" y="12.5" transform="rotate(14 119 12.5)" style="font-size:11px">1016</text><text x="40" y="69" transform="rotate(6 40 69)" style="font-size:11px">1016</text><text x="96" y="61" transform="rotate(6 96 61)" style="font-size:11px">1020</text><text x="40" y="86.5" style="font-size:11px">1012</text><text x="33" y="98.5" style="font-size:11px">1008</text><text x="94" y="106" style="font-size:11px">1004</text>
<circle cx="74" cy="24" r="0.65" fill="#333"/><circle cx="124.5" cy="13.7" r="0.65" fill="#333"/><circle cx="110.4" cy="65.2" r="0.65" fill="#333"/><circle cx="115.5" cy="74.3" r="0.65" fill="#333"/>
</g>
<rect x="0" y="0" width="177.2" height="103.3" fill="none" stroke="#303030" stroke-width="0.85"/>
<path d="M0,13.8 h2 M177.2,13.8 h-2" stroke="#262626" stroke-width="0.7"/>
<path d="M0,32.3 h2 M177.2,32.3 h-2" stroke="#262626" stroke-width="0.7"/>
<path d="M0,51.9 h2 M177.2,51.9 h-2" stroke="#262626" stroke-width="0.7"/>
<path d="M0,73.4 h2 M177.2,73.4 h-2" stroke="#262626" stroke-width="0.7"/>
<path d="M0,97.5 h2 M177.2,97.5 h-2" stroke="#262626" stroke-width="0.7"/>
<path d="M6.6,0 v2 M6.6,103.3 v-2" stroke="#262626" stroke-width="0.7"/>
<path d="M38.7,0 v2 M38.7,103.3 v-2" stroke="#262626" stroke-width="0.7"/>
<path d="M70.8,0 v2 M70.8,103.3 v-2" stroke="#262626" stroke-width="0.7"/>
<path d="M102.9,0 v2 M102.9,103.3 v-2" stroke="#262626" stroke-width="0.7"/>
<path d="M135,0 v2 M135,103.3 v-2" stroke="#262626" stroke-width="0.7"/>
<path d="M167.1,0 v2 M167.1,103.3 v-2" stroke="#262626" stroke-width="0.7"/>
<text x="4" y="15.3" style="font-size:14px">d)</text>
<text x="-3.2" y="13.8" text-anchor="end" style="font-size:11px" dominant-baseline="central">16°S</text>
<text x="-3.2" y="32.3" text-anchor="end" style="font-size:11px" dominant-baseline="central">24°S</text>
<text x="-3.2" y="51.9" text-anchor="end" style="font-size:11px" dominant-baseline="central">32°S</text>
<text x="-3.2" y="73.4" text-anchor="end" style="font-size:11px" dominant-baseline="central">40°S</text>
<text x="-3.2" y="97.5" text-anchor="end" style="font-size:11px" dominant-baseline="central">48°S</text>
<text x="8.3" y="114.6" text-anchor="middle" style="font-size:11px">60°W</text>
<text x="40.4" y="114.6" text-anchor="middle" style="font-size:11px">45°W</text>
<text x="72.5" y="114.6" text-anchor="middle" style="font-size:11px">30°W</text>
<text x="104.6" y="114.6" text-anchor="middle" style="font-size:11px">15°W</text>
<text x="136.7" y="114.6" text-anchor="middle" style="font-size:11px">0°</text>
<text x="168.8" y="114.6" text-anchor="middle" style="font-size:11px">15°E</text>
</g>
<g transform="translate(211.2,129.2)">
<rect x="0" y="0" width="17.5" height="9.6" fill="#7d2c48"/><rect x="0" y="9.2" width="17.5" height="9.6" fill="#b93a72"/><rect x="0" y="18.5" width="17.5" height="9.6" fill="#e37b60"/><rect x="0" y="27.7" width="17.5" height="9.6" fill="#efb8a2"/><rect x="0" y="36.9" width="17.5" height="9.6" fill="#f4dfd9"/><rect x="0" y="46.2" width="17.5" height="9.6" fill="#f5f3f1"/><rect x="0" y="55.4" width="17.5" height="9.6" fill="#d0dde6"/><rect x="0" y="64.7" width="17.5" height="9.6" fill="#9ccbe0"/><rect x="0" y="73.9" width="17.5" height="9.6" fill="#419fd8"/><rect x="0" y="83.1" width="17.5" height="9.6" fill="#5a6bc5"/><rect x="0" y="92.4" width="17.5" height="9.6" fill="#444a84"/>
<rect x="0" y="0" width="17.5" height="101.6" fill="none" stroke="#3a3a3a" stroke-width="0.75"/>
</g>
<text x="232.7" y="149.2" style="font-size:11px" dominant-baseline="central">5</text>
<path d="M228.7,149.2 h-1.8" stroke="#333" stroke-width="0.6"/>
<text x="232.7" y="179.9" style="font-size:11px" dominant-baseline="central">0</text>
<path d="M228.7,179.9 h-1.8" stroke="#333" stroke-width="0.6"/>
<text x="232.7" y="210.6" style="font-size:11px" dominant-baseline="central">-5</text>
<path d="M228.7,210.6 h-1.8" stroke="#333" stroke-width="0.6"/>
<text transform="translate(253.8,186) rotate(-90)" text-anchor="middle" style="font-size:10px" dominant-baseline="central">(m s<tspan dy="-3" style="font-size:6.5px">-1</tspan><tspan dy="3">)</tspan></text>
<g transform="translate(288.5,128.5)"><g clip-path="url(#ax)">
<rect x="-3" y="-3" width="183.2" height="109.3" fill="#f0eae8"/><path d="M-2.5,-3 79.9,-3 86,1.3 96,10 99.5,12.4 101.1,13 108.5,14.1 112.5,15.2 116,16.8 122.5,20.5 131,22.9 134,24.2 136.5,25.5 140,27.9 146.5,33.1 152.5,36.2 155.5,38.2 159,41.1 164.4,46.5 167,48.1 168.5,48.6 170,48.8 171,48.7 172.5,48.1 174.5,46.9 176.5,45.4 178.6,43.5 180.5,41.5 180.5,106.5 -3,106.5 -3,-3 -2.5,-3Z" fill="#efe0da"/><path d="M-2.5,-3 35.1,-3 38.5,-0.9 42,1.1 44.5,2.2 47.5,3.3 52.5,4.5 65.5,6.5 72,7.9 80,10.7 95,16.8 98.5,17.9 107,19.9 112.5,21.8 127,27.8 131,29.7 135,32.3 142.5,38 147.2,41 152.1,45 159.5,50.7 161.5,52.5 162.4,54.5 163.7,59.5 164.4,61.5 165.6,63 167,63.8 168,63.9 169,63.7 170.5,62.8 175,56 177.4,53.5 180.5,50.6 180.5,106.5 -3,106.5 -3,-3 -2.5,-3Z" fill="#edcfc4"/><path d="M-2.5,-3 10.2,-3 14.9,2 19.4,7.5 34.5,27.5 36.5,29.6 38.5,30.7 39.5,30.9 40.5,30.9 42.5,30.2 44.5,29 51.1,24.5 54,22.8 58,20.9 62.5,19.4 67,18.5 72,18.2 77,18.5 83,19.3 100,22.6 106,24.3 112,26.3 121,29.8 124.5,31.3 128,33.2 131.3,35.5 134.9,38.5 138.4,42 144.5,48.5 147,50.4 152.5,53.9 154.5,55.6 156.7,58.5 159.3,64 160.2,65.5 161.6,67 164,68.3 165.5,68.8 167,68.8 168.5,68.4 170,67.6 172.5,65.4 177,60 180.5,56.7 180.5,106.5 -3,106.5 -3,-3 -2.5,-3Z" fill="#e9b9a9"/><path d="M-2.9,2 3,7.7 8,13.2 12.6,19 17.5,25.9 20.6,31 22.9,36 24.8,41 27.3,49.5 28.7,53 29.9,55 31,56.2 32.5,57.4 34,58.1 36,58.3 38.5,57.7 41,56.3 43.2,54.5 45.1,52.5 47.1,50 53.5,40.5 56.5,36.5 60,32.8 63.6,30 68,27.7 72,26.4 77.5,25.6 83.5,25.5 89,25.8 95,26.3 99,26.9 103.5,27.9 109.5,29.6 116,31.9 120.5,33.7 125,35.9 128.5,38.4 131.7,41.5 134.7,45 140,52.1 142,54.3 144.5,56.4 150.3,60.5 152.1,62 153,63.5 153.8,66.5 154.8,68 156.8,69.5 160.1,71 163,71.9 165.5,72.2 167.5,72 169.5,71.3 172,69.5 177,64.4 180.5,61.4 180.5,106.5 -3,106.5 -3,1.9 -2.9,2Z" fill="#e5a28c"/><path d="M-2.9,17 2.5,22.2 7,27.1 11,31.9 14,36.3 15.9,39.5 17.5,42.8 19,46.5 21.9,55 23.1,57.5 24.3,59.5 26,61.5 27.5,62.8 29.5,64 31.5,64.7 33.5,65 35.5,65 39,64.5 42.5,63.1 45.8,61 48.7,58.5 51.6,55.5 60.5,44.2 63.5,40.8 67,37.6 70.5,35.2 74.5,33.3 79.5,31.9 85,31.1 91.5,30.8 99,31.3 107,32.9 112,34.4 117,36.1 121,37.8 123.5,39.2 126.5,41.7 129.6,45 132.4,48.5 138,56.4 144.5,64.2 148.4,70 149.5,71.1 151,71.9 161.6,75 164.5,75.4 167.5,75.1 170,74.3 172,73.1 174,71.4 177,68 180.5,65.5 180.5,106.5 -3,106.5 -3,16.9 -2.9,17Z" fill="#e08a6f"/><path d="M-2.8,30 1.5,33.8 5.5,37.8 8.5,41.3 10.8,44.5 12.3,47 13.4,49.5 15.8,57 17,60.1 18.5,63 20.3,65.5 22.9,68 25.5,69.6 28.5,70.9 32,71.6 35.5,71.5 39,70.7 43.1,69 47.5,66.4 51.3,63.5 55,60.1 66.5,47.6 70,44.2 72.5,42.3 75,40.7 77.5,39.3 80.5,38.1 84.5,36.9 89,36 93.5,35.5 97.5,35.5 102.5,36 106.5,36.7 112.5,38.4 117.5,40.2 120,41.4 122,42.6 124,44.2 126,46.2 130,51 137,61.2 141.5,67 145.7,71.5 147.7,73 149.5,74 156.5,76.7 160.5,78 164,78.5 167,78.5 170,77.7 172.5,76.5 175,74.7 179,71 180.5,69.8 180.5,106.5 -3,106.5 -3,29.8 -2.8,30Z" fill="#db7556"/><path d="M96.5,40 99.5,39.7 101.5,39.8 108.5,41.1 115,43 117.5,44.1 120,45.5 123.5,48.3 127,52.1 129.9,56 136.3,66 138.3,68.5 140.3,70.5 142.8,72.5 145.9,74.5 157.5,80.1 160.5,81.2 163.5,81.9 166.5,82.1 169.5,81.8 172,81 174,80.1 180.5,75.5 180.5,106.5 -3,106.5 -3,42.2 2,46.7 5.1,50.5 6.7,53.5 9.3,61 10.9,64.5 13,68 15.5,71 19,73.8 23,75.8 27.5,77.1 32,77.5 36.5,76.9 40.5,75.8 45,73.7 49.5,71 53.5,68.1 57.3,65 73.5,50 76.5,47.7 79.9,45.5 83.8,43.5 88,41.9 92.5,40.6 96.5,40Z" fill="#d25a40"/><path d="M100,44.5 102.5,44.4 105,44.5 111,45.5 115.5,46.9 119.5,49 123,51.8 126.2,55.5 128.9,59.5 133.8,68 135.2,70 137,71.9 138.5,73.1 140.5,74.4 149,78.4 158,83.8 161,85 164,85.8 167,86.2 170,86.2 173,85.8 175.5,85.1 177.5,84.2 180.5,82.6 180.5,106.5 -3,106.5 -3,59.1 2.4,68 4.9,71.5 8,75 11.8,78 14,79.2 16.5,80.3 22.2,82 28.5,82.9 31.5,82.9 34.5,82.8 38,81.9 42.5,80.2 47,78 51.5,75.3 60.3,69 69.5,61.5 77,55.7 81.5,52.5 85.5,50 89.2,48 93,46.3 96.5,45.2 100,44.5Z" fill="#c23b32"/><path d="M102.5,48.9 107,48.5 111.5,49 115.5,50.2 117.5,51.2 119.5,52.4 122.5,55 125.3,58.5 127.6,62.5 131.7,71 133,73 134.5,74.7 136.3,76 138.5,77.1 145.5,79.2 147.5,80 149.5,81.5 154.5,85.8 158,88.1 160.5,89.3 163.5,90.3 166.5,91.1 169,91.4 172,91.6 175,91.5 178,91.1 180.5,90.4 180.5,106.5 -3,106.5 -3,77.3 1.2,81 4.8,83.5 8.5,85.2 12.5,86.3 19.5,87.4 26.5,87.8 32.5,87.5 38.5,86.3 41.5,85.4 45,84 51.7,80.5 81,61.8 93.9,52.5 98.5,50.1 102.5,48.9Z" fill="#a8242f"/><path d="M105.5,52.4 107.5,52.1 110,52.1 112,52.3 114,52.8 116,53.6 117.7,54.5 119.5,55.8 121,57.2 123,59.6 124.7,62.5 126.4,66.5 128.5,73.4 129.5,76 131,78.5 132.5,80 134,80.9 136,81.6 138,81.9 143.5,82.4 145.5,83 147.2,84.5 150.6,89 153,91.3 157,93.8 163.5,96.7 167.5,98.1 171,98.9 173.5,99.1 177,99 180.5,99.4 180.5,106.5 -3,106.5 -3,88.9 1.5,90.9 5,92 11.5,92.7 17,93 24,92.8 32,92 37.5,91 43,89.5 47,88 51.5,85.9 64,78.8 68.5,76.4 73.5,74.3 82,71.1 85,69.7 87,68.3 89,66.4 94.6,59.5 97.5,56.5 99.5,55 101.5,53.8 103.5,53 105.5,52.4Z" fill="#8c1a2c"/><path d="M108.5,55.4 111,55.3 113,55.6 115,56.3 117,57.3 119,58.9 120.4,60.5 121.7,62.5 122.7,64.5 123.5,67 124,69.5 124.2,74.5 123.7,78.5 121.9,85.5 121.6,88 122.1,90 123.2,91.5 125,92.8 127.5,93.9 136.5,96.4 143.2,99 151,101.7 156,104 160.7,106.5 -3,106.5 -3,97.4 0.5,97.9 5,98 10.5,98.9 15,99 21.5,98.3 35.5,95.9 43.5,94 49,92.2 54.5,89.9 66.5,83.7 69.5,82.6 73,81.7 76,81.4 79,81.3 82,81.5 85,82 90.5,83.6 93.5,84.9 98,87.1 99,87.5 100,87.6 100.6,87 100.6,86 97.7,80.5 97,78.4 96.5,76 96.3,71.5 97,67 97.8,64.5 98.8,62.5 100.1,60.5 101.5,59 103.3,57.5 105,56.5 106.5,55.9 108.5,55.4Z" fill="#6a1226"/><path d="M110,58.9 112,58.9 113.5,59.2 115,59.8 116.5,60.8 118,62.4 119,63.9 119.7,65.5 120.2,67.5 120.4,69.5 120.2,71.5 119.8,73 119,74.8 118,76.1 116.5,77.5 115,78.3 113.5,78.7 112,78.8 110,78.5 108,77.7 106.5,76.7 105,75.3 103.7,73.5 103,72 102.5,70 102.3,68 102.6,66 103.1,64.5 104,62.7 105,61.5 106.5,60.2 108,59.4 110,58.9ZM69.5,90 71.5,89.8 74,89.9 76.5,90.4 79,91.2 83,93.1 92,98.4 97,100.9 105,104.1 113,106.5 13.1,106.5 23,104.1 35,100 43,99.1 50.5,97.4 56.5,95.3 66.5,90.9 69.5,90Z" fill="#4b0c1f"/><path d="M-2,-2 L67.9,-2 L67.9,1.6 L61.5,1.6 L61.5,5.9 L59.4,5.9 L59.4,11.2 L57.2,11.2 L57.2,19.7 L54,19.7 L54,25 L51.9,25 L51.9,29.3 L45.5,29.3 L45.5,34.6 L39.2,34.6 L39.2,38.9 L37,38.9 L37,41.5 L35.1,41.5 L35.1,46.6 L31.3,46.6 L31.3,53 L27.5,53 L27.5,59.3 L23.7,59.3 L23.7,65.7 L19.9,65.7 L19.9,72 L16,72 L16,78.4 L12.2,78.4 L12.2,84.8 L8.4,84.8 L8.4,89.8 L-2,89.8 Z" fill="#ffffff"/><path d="M159.4,-2 L159.4,6 L161.2,6 L161.2,23.2 L162.6,23.2 L162.6,31.1 L165.2,31.1 L165.2,43 L167.8,43 L167.8,50.8 L170.4,50.8 L170.4,58.7 L173.1,58.7 L173.1,63 L179,63 L179,-2 Z" fill="#ffffff"/><path d="M-2,-2 L57.8,-2 L57.8,0 L55,4.1 L53.2,7.8 L52.2,12.4 L51.3,17 L50.4,21.6 L48.6,25.3 L46.2,26.8 L42,28.6 L38.8,29.9 L35.5,31.3 L33.6,32.6 L31.4,35.4 L29.8,39.5 L28.2,44.5 L24.9,49.4 L21.6,54.3 L19.1,58.4 L16,62.5 L12,66.5 L7.5,70 L3,72.5 L-0.5,73.8 L-2,74 Z" fill="#d4cbbd"/><path d="M164.5,-2 L164.5,0 L161.8,7.3 L161,12.6 L161.8,20.6 L164,28.5 L166.3,36.5 L169.8,44.4 L173.5,49.8 L175.9,53.7 L177.5,56.5 L179,57 L179,-2 Z" fill="#d4cbbd"/><path d="M57.8,0 C57.5,0.4 55.5,3.3 55,4.1 C54.5,4.9 53.5,7 53.2,7.8 C52.9,8.6 52.4,11.5 52.2,12.4 C52,13.3 51.5,16.1 51.3,17 C51.1,17.9 50.7,20.8 50.4,21.6 C50.1,22.4 49,24.8 48.6,25.3 C48.2,25.8 46.9,26.5 46.2,26.8 C45.5,27.1 42.7,28.3 42,28.6 C41.3,28.9 39.4,29.6 38.8,29.9 C38.1,30.2 36,31 35.5,31.3 C35,31.6 34,32.2 33.6,32.6 C33.2,33 31.8,34.7 31.4,35.4 C31,36.1 30.1,38.6 29.8,39.5 C29.5,40.4 28.7,43.5 28.2,44.5 C27.7,45.5 25.6,48.4 24.9,49.4 C24.2,50.4 22.2,53.4 21.6,54.3 C21,55.2 19.7,57.6 19.1,58.4 C18.5,59.2 16.7,61.7 16,62.5 C15.3,63.3 12.8,65.8 12,66.5 C11.2,67.2 8.4,69.4 7.5,70 C6.6,70.6 3.8,72.1 3,72.5 C2.2,72.9 -0.1,73.7 -0.5,73.8" fill="none" stroke="#222" stroke-width="0.7"/><path d="M164.5,0 C164.2,0.7 162.2,6 161.8,7.3 C161.5,8.6 161,11.3 161,12.6 C161,13.9 161.5,19 161.8,20.6 C162.1,22.2 163.6,26.9 164,28.5 C164.4,30.1 165.7,34.9 166.3,36.5 C166.9,38.1 169.1,43.1 169.8,44.4 C170.5,45.7 172.9,48.9 173.5,49.8 C174.1,50.7 175.5,53 175.9,53.7 C176.3,54.4 177.3,56.2 177.5,56.5" fill="none" stroke="#222" stroke-width="0.7"/><path d="M15.6,40.2 L10,40.9 L8.8,46.5 L11.1,51 L14.5,53.3" fill="none" stroke="#222" stroke-width="0.7"/><circle cx="39.3" cy="19.8" r="0.6" fill="#222"/><circle cx="37.5" cy="24.4" r="0.7" fill="#222"/><circle cx="38.6" cy="25.6" r="0.7" fill="#222"/><circle cx="32" cy="29.9" r="0.5" fill="#222"/>
<circle cx="74" cy="24" r="0.65" fill="#333"/><circle cx="124.5" cy="13.7" r="0.65" fill="#333"/><circle cx="110.4" cy="65.2" r="0.65" fill="#333"/><circle cx="115.5" cy="74.3" r="0.65" fill="#333"/>
</g>
<rect x="0" y="0" width="177.2" height="103.3" fill="none" stroke="#303030" stroke-width="0.85"/>
<path d="M0,13.8 h2 M177.2,13.8 h-2" stroke="#262626" stroke-width="0.7"/>
<path d="M0,32.3 h2 M177.2,32.3 h-2" stroke="#262626" stroke-width="0.7"/>
<path d="M0,51.9 h2 M177.2,51.9 h-2" stroke="#262626" stroke-width="0.7"/>
<path d="M0,73.4 h2 M177.2,73.4 h-2" stroke="#262626" stroke-width="0.7"/>
<path d="M0,97.5 h2 M177.2,97.5 h-2" stroke="#262626" stroke-width="0.7"/>
<path d="M6.6,0 v2 M6.6,103.3 v-2" stroke="#262626" stroke-width="0.7"/>
<path d="M38.7,0 v2 M38.7,103.3 v-2" stroke="#262626" stroke-width="0.7"/>
<path d="M70.8,0 v2 M70.8,103.3 v-2" stroke="#262626" stroke-width="0.7"/>
<path d="M102.9,0 v2 M102.9,103.3 v-2" stroke="#262626" stroke-width="0.7"/>
<path d="M135,0 v2 M135,103.3 v-2" stroke="#262626" stroke-width="0.7"/>
<path d="M167.1,0 v2 M167.1,103.3 v-2" stroke="#262626" stroke-width="0.7"/>
<text x="4" y="15.3" style="font-size:14px">e)</text>
<text x="-3.2" y="13.8" text-anchor="end" style="font-size:11px" dominant-baseline="central">16°S</text>
<text x="-3.2" y="32.3" text-anchor="end" style="font-size:11px" dominant-baseline="central">24°S</text>
<text x="-3.2" y="51.9" text-anchor="end" style="font-size:11px" dominant-baseline="central">32°S</text>
<text x="-3.2" y="73.4" text-anchor="end" style="font-size:11px" dominant-baseline="central">40°S</text>
<text x="-3.2" y="97.5" text-anchor="end" style="font-size:11px" dominant-baseline="central">48°S</text>
<text x="8.3" y="114.6" text-anchor="middle" style="font-size:11px">60°W</text>
<text x="40.4" y="114.6" text-anchor="middle" style="font-size:11px">45°W</text>
<text x="72.5" y="114.6" text-anchor="middle" style="font-size:11px">30°W</text>
<text x="104.6" y="114.6" text-anchor="middle" style="font-size:11px">15°W</text>
<text x="136.7" y="114.6" text-anchor="middle" style="font-size:11px">0°</text>
<text x="168.8" y="114.6" text-anchor="middle" style="font-size:11px">15°E</text>
</g>
<g transform="translate(468.1,129.2)">
<rect x="0" y="0" width="17.5" height="8.2" fill="#4b0c1f"/><rect x="0" y="7.8" width="17.5" height="8.2" fill="#6a1226"/><rect x="0" y="15.6" width="17.5" height="8.2" fill="#8c1a2c"/><rect x="0" y="23.4" width="17.5" height="8.2" fill="#a8242f"/><rect x="0" y="31.3" width="17.5" height="8.2" fill="#c23b32"/><rect x="0" y="39.1" width="17.5" height="8.2" fill="#d25a40"/><rect x="0" y="46.9" width="17.5" height="8.2" fill="#db7556"/><rect x="0" y="54.7" width="17.5" height="8.2" fill="#e08a6f"/><rect x="0" y="62.5" width="17.5" height="8.2" fill="#e5a28c"/><rect x="0" y="70.3" width="17.5" height="8.2" fill="#e9b9a9"/><rect x="0" y="78.2" width="17.5" height="8.2" fill="#edcfc4"/><rect x="0" y="86" width="17.5" height="8.2" fill="#efe0da"/><rect x="0" y="93.8" width="17.5" height="8.2" fill="#f0eae8"/>
<rect x="0" y="0" width="17.5" height="101.6" fill="none" stroke="#3a3a3a" stroke-width="0.75"/>
</g>
<text x="489.6" y="147.3" style="font-size:11px" dominant-baseline="central">1.2</text>
<path d="M485.6,147.3 h-1.8" stroke="#333" stroke-width="0.6"/>
<text x="489.6" y="166.8" style="font-size:11px" dominant-baseline="central">1</text>
<path d="M485.6,166.8 h-1.8" stroke="#333" stroke-width="0.6"/>
<text x="489.6" y="186.3" style="font-size:11px" dominant-baseline="central">0.8</text>
<path d="M485.6,186.3 h-1.8" stroke="#333" stroke-width="0.6"/>
<text x="489.6" y="205.8" style="font-size:11px" dominant-baseline="central">0.6</text>
<path d="M485.6,205.8 h-1.8" stroke="#333" stroke-width="0.6"/>
<text x="489.6" y="225.3" style="font-size:11px" dominant-baseline="central">0.4</text>
<path d="M485.6,225.3 h-1.8" stroke="#333" stroke-width="0.6"/>
<text transform="translate(514.5,179.5) rotate(-90)" text-anchor="middle" style="font-size:10px" dominant-baseline="central">(hPa)</text>
<g transform="translate(550.1,128.5)"><g clip-path="url(#ax)">
<rect x="-3" y="-3" width="183.2" height="109.3" fill="#3a85c4"/><path d="M-2.5,-3 180.5,-3 180.5,100.3 177,100.1 172.5,101.1 169,101.3 165,100.9 154,99.1 150.5,99 147.5,99.2 144,100.1 142.5,100.7 141.2,101.5 140.5,102.5 140.1,103.5 139.3,106.5 -3,106.5 -3,-3 -2.5,-3Z" fill="#5d9dcc"/><path d="M-2.5,-3 133.5,-3 136,-2.9 139.1,-3 180.5,-3 180.5,95.4 172,96.8 169,97.1 165.5,97 157.5,96.1 154,95.9 150.5,96.1 147,96.7 143,98.1 140,100 138.5,102 136.9,106.5 -3,106.5 -3,-3 -2.5,-3Z" fill="#98c0da"/><path d="M-2.5,-3 115.3,-3 117.5,-1.2 120.5,0.3 123.5,1.2 130,3 134.5,4.4 136.5,4.7 142.5,5 147.5,6 149.5,6.3 151,6.1 152.5,5.7 154,4.8 155.5,3.6 156.5,2.5 157.5,1 159.3,-3 180.5,-3 180.5,91.1 173.5,92.9 170,93.5 167,93.6 159,93 154.5,93 150,93.4 146.5,94.3 144.5,95.1 141.5,96.8 138.5,99.1 136.6,101.5 134.4,106.5 -3,106.5 -3,-3 -2.5,-3Z" fill="#c5d7e2"/><path d="M-2.5,-3 109.3,-3 113.2,1.5 115.7,3 119.2,4.5 127.5,7.3 134.5,9.9 138,10.6 144.5,11.3 149.5,12.9 152,13.2 154,12.9 155.5,12.2 157,11.1 158.5,9.7 160.4,7.5 161.5,6 163.4,1.5 164.2,0 165.5,-1.6 167.2,-3 180.5,-3 180.5,86.9 173,89.3 170,90 160.5,89.8 155,90.1 149.5,90.8 145.5,92 142.5,93.7 138.5,96.7 136.5,98.5 134.5,101 131.4,106.5 -3,106.5 -3,-3 -2.5,-3Z" fill="#e4e6e8"/><path d="M-2.5,-3 102.8,-3 107,-0.3 111,3.9 114.4,6 124,10.2 130.5,13.6 134,14.9 141.5,17.4 149,21 151,21.7 152.5,21.8 154.5,21.7 159.3,20.5 163,19 169.5,15.7 172,14.8 175.5,14.4 180.5,14.6 180.5,82 177,83.9 175,84.4 168.5,85.7 151.5,87.7 147,88.7 144,89.7 141,91.5 132.7,99 131.3,100.5 129,103.7 126.6,106.5 -3,106.5 -3,-3 -2.5,-3Z" fill="#ede1dc"/><path d="M-2.5,-3 86,-3 88,-2.7 95.5,-1 99,0.1 102.5,1.6 105.5,3.3 109,6 111.5,7.7 121.5,12.7 130,17.7 142.8,23.5 147,25.2 150,25.9 154.5,26.6 170.5,26.3 176,26.7 180.5,27.3 180.5,76.7 173.5,79.5 163.5,82.6 159,83.6 147.5,85.7 145,86.3 142.5,87.4 139.9,89 135.5,93.2 134,94.2 131.5,95.4 126,96.9 124.5,97.6 123.2,99 122.3,100.5 119.6,106.5 -3,106.5 -3,-3 -2.5,-3Z" fill="#eecabd"/><path d="M-2.5,-3 72.3,-3 73.1,-1 74,0.4 75.5,1.4 77,2 80,2.5 88.5,2.7 92,3 97,4.1 102,5.9 112,11.3 119,14.8 127.5,20.4 132.5,23.3 137.5,25.7 143.3,28 151,30.3 162.5,31.5 168,32.2 175,33.7 180,35.4 180.5,35.6 180.5,72.7 174.5,75.5 168,77.5 164,79.2 161,80.2 156.5,81.3 147,82.9 143.5,83.8 141.5,84.7 139.5,85.8 134.6,89.5 133,90.4 131,91 125.5,92 123,92.8 120.4,94 117.4,96 116.4,97 115.8,98 115,100 113.5,106.5 -3,106.5 -3,-3 -2.5,-3Z" fill="#e9ac99"/><path d="M-2.5,-3 68.2,-3 70.5,2 71.5,3.4 73.5,5.3 75.5,6.4 77.5,7 79.5,7.3 86.5,7 90,7.3 95.5,8.4 101,9.9 107.4,12.5 116.4,17 119,18.6 129.5,25.9 133,27.8 136.5,29.4 141,31 146.5,32.5 161,35.4 168,37.1 174,39.2 178.4,41.5 180.5,43 180.5,68.5 177.3,71 173.8,73 171.3,74 167.5,75.1 162,77.3 156.5,78.7 146.5,80.1 143,80.9 140.5,81.8 136,84.4 132,86.4 118,89.9 115,91.1 113.5,92 111.7,93.5 110.3,95 109.4,96.5 108.6,99 108,104 107.3,106.5 -3,106.5 -3,-3 -2.5,-3Z" fill="#e0866c"/><path d="M-2.5,-3 62.9,-3 65,-1.5 66.5,0.1 69.9,6.5 71.3,8.5 73,10 75,11.1 77.5,11.8 80,12.2 88,12.4 93.5,13 99,14 104,15.4 109,17.3 114.5,20.1 118,22.2 128,29.2 130.5,30.7 133.5,32.1 136.5,33.3 140.5,34.4 153,37.1 159,38.7 166.5,41.3 172,43.7 174.8,45.5 177,47.3 178.9,49.5 180.1,51.5 180.5,52.5 180.5,62 179.5,64 178.6,65.5 176,68.5 172.6,71 169,72.7 161.5,75.1 157.5,76 153.5,76.6 145.5,77.3 142.5,77.9 139,79.1 134.5,81.7 131.5,82.7 125.5,83.9 116.5,84.9 115,85.3 113,86.3 109,89 104,93.7 100.5,96.4 98.5,97.4 95.3,98 95.4,98.5 97,98.8 98,99.2 99,100 99.7,101 100.3,102 100.6,103.5 100.7,105 100.3,106.5 -3,106.5 -3,-3 -2.5,-3Z" fill="#d45d45"/><path d="M19.5,8 25.5,7.9 31,8.7 36,10.3 44.5,13.9 46.5,14.5 48,14.6 50,14.5 52,14.1 64,10.1 65,10.6 67.8,13 70.5,14.8 73.5,16.3 77,17.4 80.5,18.1 84.5,18.5 93,18.5 97.5,18.9 102,19.6 106.5,20.9 110.5,22.5 114.5,24.5 118,26.7 127,32.9 131.5,35.4 134,36.3 137.5,37.3 149.5,39.5 154,40.6 162.5,44 168.5,47 171,48.6 173,50.3 174.5,52 175.7,54 176.5,56 176.8,58 176.7,60.5 176.2,62.5 174.7,65.5 172.6,68 169.5,70.3 166.6,71.5 161,73 156.5,73.8 152.5,74.2 144.5,74.4 142,74.8 138.5,75.8 132,78.5 128.5,79.4 123.5,80 115.5,80.3 114,80.6 112.9,81 103.2,87 98.5,90.6 95.7,92 92,93.3 90.8,94 90,94.9 89.6,96 89.5,97.5 89.5,100.5 89.3,101.5 88.6,102.5 87,103.2 85.5,103.5 83,103.5 73.5,103 63,103.6 56,104.6 49.4,106.5 -3,106.5 -3,12.8 10.5,9.4 15.1,8.5 19.5,8Z" fill="#bf3a32"/><path d="M64,21.9 66,21.8 68.5,22.1 77,24.4 81,25.1 84.5,25.2 95,24.5 99,24.5 104,25.1 109,26.6 112,27.9 115,29.5 126,36.7 130,38.9 133,39.9 136.5,40.8 151,43.1 156.5,45.4 164,49.3 166.7,51 169,52.8 170.5,54.3 171.7,56 172.3,57.5 172.7,59.5 172.6,61.5 172.1,63.5 171.3,65 170.3,66.5 168,68.5 166,69.4 162,70.4 158,71.2 154.5,71.5 142,71.5 140,71.9 133.5,74.2 129,75.3 125,75.7 114,76.1 111.5,76.5 109,77.6 105.1,80.5 100.5,82.9 95.5,86.5 94,87 93,87 91.5,86.4 89,84.3 87.4,82.5 85,78.2 83.5,76.5 82.5,75.9 81,75.6 78,75.8 75.5,76.7 72.5,78.4 61,87.7 45,97.9 42.8,99 40.5,99.8 31.5,102.1 25,105.4 22.5,106.4 7.5,106.5 4.5,105.2 1.5,103.2 -0.9,101 -3,98.3 -3,57.1 -1.7,53 -0.3,50.5 1,49.2 3,48.3 5.5,47.8 8,47.9 10.5,48.4 13,49.2 20.5,52.8 21.5,53.1 22.5,53.1 23,52.7 23.5,52 25.1,47.5 26.3,45 28.2,42.5 30.5,40.5 32.5,39.2 34.9,38 43.5,34.6 47,32.9 54.5,27.9 60,23.6 62,22.5 64,21.9Z" fill="#9a1b2d"/><path d="M62.5,30 64.5,29.7 66.5,29.9 72.5,31.6 77,32.6 81,33.2 85,33.5 87,33.4 94,31 98.5,30.2 103,30.3 105.5,30.7 108,31.3 111,32.4 114,33.9 117.5,35.9 126,41.3 131.5,43.8 135.5,44.8 144,45.7 147.5,46.2 152.5,47.8 156,49.4 163.5,53.8 166.8,56.5 167.9,58 168.5,59.5 168.7,61 168.5,62.5 167.6,64.5 166.1,66 164,67.2 161.1,68 157.5,68.6 154,68.8 143.5,68.2 141,68.3 138.5,68.8 134.5,70.5 131.5,70.8 126.5,70.9 122,70.5 118,69.8 111,68.1 106,67.3 104,67.4 99,68.2 96.5,68.2 87,66.5 78.5,65.7 74,65.8 69.5,66.4 66.5,67.3 64,68.9 63.5,68.8 63.5,68 64.3,66.5 64.5,65.5 64.5,64.5 64.2,63.5 63.5,62.5 61,60.2 58.5,57.5 54.9,53 53.7,51 53.1,49.5 52.7,48 52.5,46.5 52.7,44.5 53.3,42.5 54.5,40 56.5,36.5 58.4,33.5 60,31.5 61.2,30.5 62.5,30ZM13,69.5 15.5,69.2 18,69.4 21,70.1 24,71.1 29.8,74 36.5,78.3 39,79.4 39.4,80 39,80.6 37.5,81.2 36.5,81.8 35.5,83.1 35.2,84 35.5,87 35.3,88.5 34.5,90.5 33.4,92 31,94 24.9,98 22,99.5 19.5,100.3 17,100.5 14.5,100.3 12,99.5 9.5,98.2 7,96.2 5,93.9 3.6,91.5 2.8,89 2.5,86 2.9,83 4,78.8 5.4,75.5 6.7,73.5 8.5,71.6 10.5,70.3 13,69.5Z" fill="#6e1126"/><path d="M100.5,36 103.5,36 106.5,36.4 109.5,37.2 112.5,38.4 117.5,41.2 127.4,48 130,49.4 137,50.1 145,50.2 148,50.7 151.5,51.9 153.8,53 155.5,54.2 158.8,57.5 159.5,57.7 161.5,57.5 162.6,58 163.4,59 163.7,60 163.8,61 163.5,62 163,62.7 162.2,63.5 160,64.6 156.5,65.3 152.5,65.3 147,64.9 141.5,64 139,63 136,61 135,60.9 134,61.5 132,63.2 130.5,64 128.5,64.5 126,64.4 124.2,64 122.5,63.3 117.5,60.1 116,59.5 108.5,59.5 103.5,59.1 100,58.3 95,56.4 93.5,56.1 86,56.7 84,56.6 82,56.2 80,55.4 78.5,54.4 77.2,53 75.5,50.5 74.7,48.5 74.6,45.5 75,43.5 76.1,42.5 79.2,41 82.5,39.9 90.5,38.2 97,36.5 100.5,36ZM14,78 15.5,77.6 17,77.6 18.5,78 19.8,78.5 21,79.3 22.2,80.5 23.6,83 24.3,86.5 24.3,88 24.1,89 23.3,90.5 22.1,92 20.8,93 19.5,93.6 18,94 16.5,94 15,93.6 13.5,93 12,92 10.5,90.5 9.7,89.5 9.1,88 8.7,86.5 8.7,85 9,83.5 9.6,82 10.5,80.6 11.5,79.5 12.5,78.7 14,78Z" fill="#4a0b1e"/><path d="M-2,-2 L67.9,-2 L67.9,1.6 L61.5,1.6 L61.5,5.9 L59.4,5.9 L59.4,11.2 L57.2,11.2 L57.2,19.7 L54,19.7 L54,25 L51.9,25 L51.9,29.3 L45.5,29.3 L45.5,34.6 L39.2,34.6 L39.2,38.9 L37,38.9 L37,41.5 L35.1,41.5 L35.1,46.6 L31.3,46.6 L31.3,53 L27.5,53 L27.5,59.3 L23.7,59.3 L23.7,65.7 L19.9,65.7 L19.9,72 L16,72 L16,78.4 L12.2,78.4 L12.2,84.8 L8.4,84.8 L8.4,89.8 L-2,89.8 Z" fill="#ffffff"/><path d="M159.4,-2 L159.4,6 L161.2,6 L161.2,23.2 L162.6,23.2 L162.6,31.1 L165.2,31.1 L165.2,43 L167.8,43 L167.8,50.8 L170.4,50.8 L170.4,58.7 L173.1,58.7 L173.1,63 L179,63 L179,-2 Z" fill="#ffffff"/><path d="M-2,-2 L57.8,-2 L57.8,0 L55,4.1 L53.2,7.8 L52.2,12.4 L51.3,17 L50.4,21.6 L48.6,25.3 L46.2,26.8 L42,28.6 L38.8,29.9 L35.5,31.3 L33.6,32.6 L31.4,35.4 L29.8,39.5 L28.2,44.5 L24.9,49.4 L21.6,54.3 L19.1,58.4 L16,62.5 L12,66.5 L7.5,70 L3,72.5 L-0.5,73.8 L-2,74 Z" fill="#d4cbbd"/><path d="M164.5,-2 L164.5,0 L161.8,7.3 L161,12.6 L161.8,20.6 L164,28.5 L166.3,36.5 L169.8,44.4 L173.5,49.8 L175.9,53.7 L177.5,56.5 L179,57 L179,-2 Z" fill="#d4cbbd"/><path d="M57.8,0 C57.5,0.4 55.5,3.3 55,4.1 C54.5,4.9 53.5,7 53.2,7.8 C52.9,8.6 52.4,11.5 52.2,12.4 C52,13.3 51.5,16.1 51.3,17 C51.1,17.9 50.7,20.8 50.4,21.6 C50.1,22.4 49,24.8 48.6,25.3 C48.2,25.8 46.9,26.5 46.2,26.8 C45.5,27.1 42.7,28.3 42,28.6 C41.3,28.9 39.4,29.6 38.8,29.9 C38.1,30.2 36,31 35.5,31.3 C35,31.6 34,32.2 33.6,32.6 C33.2,33 31.8,34.7 31.4,35.4 C31,36.1 30.1,38.6 29.8,39.5 C29.5,40.4 28.7,43.5 28.2,44.5 C27.7,45.5 25.6,48.4 24.9,49.4 C24.2,50.4 22.2,53.4 21.6,54.3 C21,55.2 19.7,57.6 19.1,58.4 C18.5,59.2 16.7,61.7 16,62.5 C15.3,63.3 12.8,65.8 12,66.5 C11.2,67.2 8.4,69.4 7.5,70 C6.6,70.6 3.8,72.1 3,72.5 C2.2,72.9 -0.1,73.7 -0.5,73.8" fill="none" stroke="#222" stroke-width="0.7"/><path d="M164.5,0 C164.2,0.7 162.2,6 161.8,7.3 C161.5,8.6 161,11.3 161,12.6 C161,13.9 161.5,19 161.8,20.6 C162.1,22.2 163.6,26.9 164,28.5 C164.4,30.1 165.7,34.9 166.3,36.5 C166.9,38.1 169.1,43.1 169.8,44.4 C170.5,45.7 172.9,48.9 173.5,49.8 C174.1,50.7 175.5,53 175.9,53.7 C176.3,54.4 177.3,56.2 177.5,56.5" fill="none" stroke="#222" stroke-width="0.7"/><path d="M15.6,40.2 L10,40.9 L8.8,46.5 L11.1,51 L14.5,53.3" fill="none" stroke="#222" stroke-width="0.7"/><circle cx="39.3" cy="19.8" r="0.6" fill="#222"/><circle cx="37.5" cy="24.4" r="0.7" fill="#222"/><circle cx="38.6" cy="25.6" r="0.7" fill="#222"/><circle cx="32" cy="29.9" r="0.5" fill="#222"/>
<circle cx="74" cy="24" r="0.65" fill="#333"/><circle cx="124.5" cy="13.7" r="0.65" fill="#333"/><circle cx="110.4" cy="65.2" r="0.65" fill="#333"/><circle cx="115.5" cy="74.3" r="0.65" fill="#333"/>
</g>
<rect x="0" y="0" width="177.2" height="103.3" fill="none" stroke="#303030" stroke-width="0.85"/>
<path d="M0,13.8 h2 M177.2,13.8 h-2" stroke="#262626" stroke-width="0.7"/>
<path d="M0,32.3 h2 M177.2,32.3 h-2" stroke="#262626" stroke-width="0.7"/>
<path d="M0,51.9 h2 M177.2,51.9 h-2" stroke="#262626" stroke-width="0.7"/>
<path d="M0,73.4 h2 M177.2,73.4 h-2" stroke="#262626" stroke-width="0.7"/>
<path d="M0,97.5 h2 M177.2,97.5 h-2" stroke="#262626" stroke-width="0.7"/>
<path d="M6.6,0 v2 M6.6,103.3 v-2" stroke="#262626" stroke-width="0.7"/>
<path d="M38.7,0 v2 M38.7,103.3 v-2" stroke="#262626" stroke-width="0.7"/>
<path d="M70.8,0 v2 M70.8,103.3 v-2" stroke="#262626" stroke-width="0.7"/>
<path d="M102.9,0 v2 M102.9,103.3 v-2" stroke="#262626" stroke-width="0.7"/>
<path d="M135,0 v2 M135,103.3 v-2" stroke="#262626" stroke-width="0.7"/>
<path d="M167.1,0 v2 M167.1,103.3 v-2" stroke="#262626" stroke-width="0.7"/>
<text x="4" y="15.3" style="font-size:14px">f)</text>
<text x="-3.2" y="13.8" text-anchor="end" style="font-size:11px" dominant-baseline="central">16°S</text>
<text x="-3.2" y="32.3" text-anchor="end" style="font-size:11px" dominant-baseline="central">24°S</text>
<text x="-3.2" y="51.9" text-anchor="end" style="font-size:11px" dominant-baseline="central">32°S</text>
<text x="-3.2" y="73.4" text-anchor="end" style="font-size:11px" dominant-baseline="central">40°S</text>
<text x="-3.2" y="97.5" text-anchor="end" style="font-size:11px" dominant-baseline="central">48°S</text>
<text x="8.3" y="114.6" text-anchor="middle" style="font-size:11px">60°W</text>
<text x="40.4" y="114.6" text-anchor="middle" style="font-size:11px">45°W</text>
<text x="72.5" y="114.6" text-anchor="middle" style="font-size:11px">30°W</text>
<text x="104.6" y="114.6" text-anchor="middle" style="font-size:11px">15°W</text>
<text x="136.7" y="114.6" text-anchor="middle" style="font-size:11px">0°</text>
<text x="168.8" y="114.6" text-anchor="middle" style="font-size:11px">15°E</text>
</g>
<g transform="translate(730.3,129.2)">
<rect x="0" y="0" width="17.5" height="7.7" fill="#4a0b1e"/><rect x="0" y="7.3" width="17.5" height="7.7" fill="#6e1126"/><rect x="0" y="14.5" width="17.5" height="7.7" fill="#9a1b2d"/><rect x="0" y="21.8" width="17.5" height="7.7" fill="#bf3a32"/><rect x="0" y="29" width="17.5" height="7.7" fill="#d45d45"/><rect x="0" y="36.3" width="17.5" height="7.7" fill="#e0866c"/><rect x="0" y="43.5" width="17.5" height="7.7" fill="#e9ac99"/><rect x="0" y="50.8" width="17.5" height="7.7" fill="#eecabd"/><rect x="0" y="58.1" width="17.5" height="7.7" fill="#ede1dc"/><rect x="0" y="65.3" width="17.5" height="7.7" fill="#e4e6e8"/><rect x="0" y="72.6" width="17.5" height="7.7" fill="#c5d7e2"/><rect x="0" y="79.8" width="17.5" height="7.7" fill="#98c0da"/><rect x="0" y="87.1" width="17.5" height="7.7" fill="#5d9dcc"/><rect x="0" y="94.3" width="17.5" height="7.7" fill="#3a85c4"/>
<rect x="0" y="0" width="17.5" height="101.6" fill="none" stroke="#3a3a3a" stroke-width="0.75"/>
</g>
<text x="751.8" y="139.1" style="font-size:11px" dominant-baseline="central">0.15</text>
<path d="M747.8,139.1 h-1.8" stroke="#333" stroke-width="0.6"/>
<text x="751.8" y="158.2" style="font-size:11px" dominant-baseline="central">0.1</text>
<path d="M747.8,158.2 h-1.8" stroke="#333" stroke-width="0.6"/>
<text x="751.8" y="177.3" style="font-size:11px" dominant-baseline="central">0.05</text>
<path d="M747.8,177.3 h-1.8" stroke="#333" stroke-width="0.6"/>
<text x="751.8" y="196.4" style="font-size:11px" dominant-baseline="central">0</text>
<path d="M747.8,196.4 h-1.8" stroke="#333" stroke-width="0.6"/>
<text x="751.8" y="215.5" style="font-size:11px" dominant-baseline="central">-0.05</text>
<path d="M747.8,215.5 h-1.8" stroke="#333" stroke-width="0.6"/>
<text transform="translate(779.8,176.5) rotate(-90)" text-anchor="middle" style="font-size:10px" dominant-baseline="central"><tspan style="letter-spacing:-0.35px">(hPa decade</tspan><tspan dy="-3" style="font-size:6.5px">-1</tspan><tspan dy="3">)</tspan></text>
</svg></body></html>
